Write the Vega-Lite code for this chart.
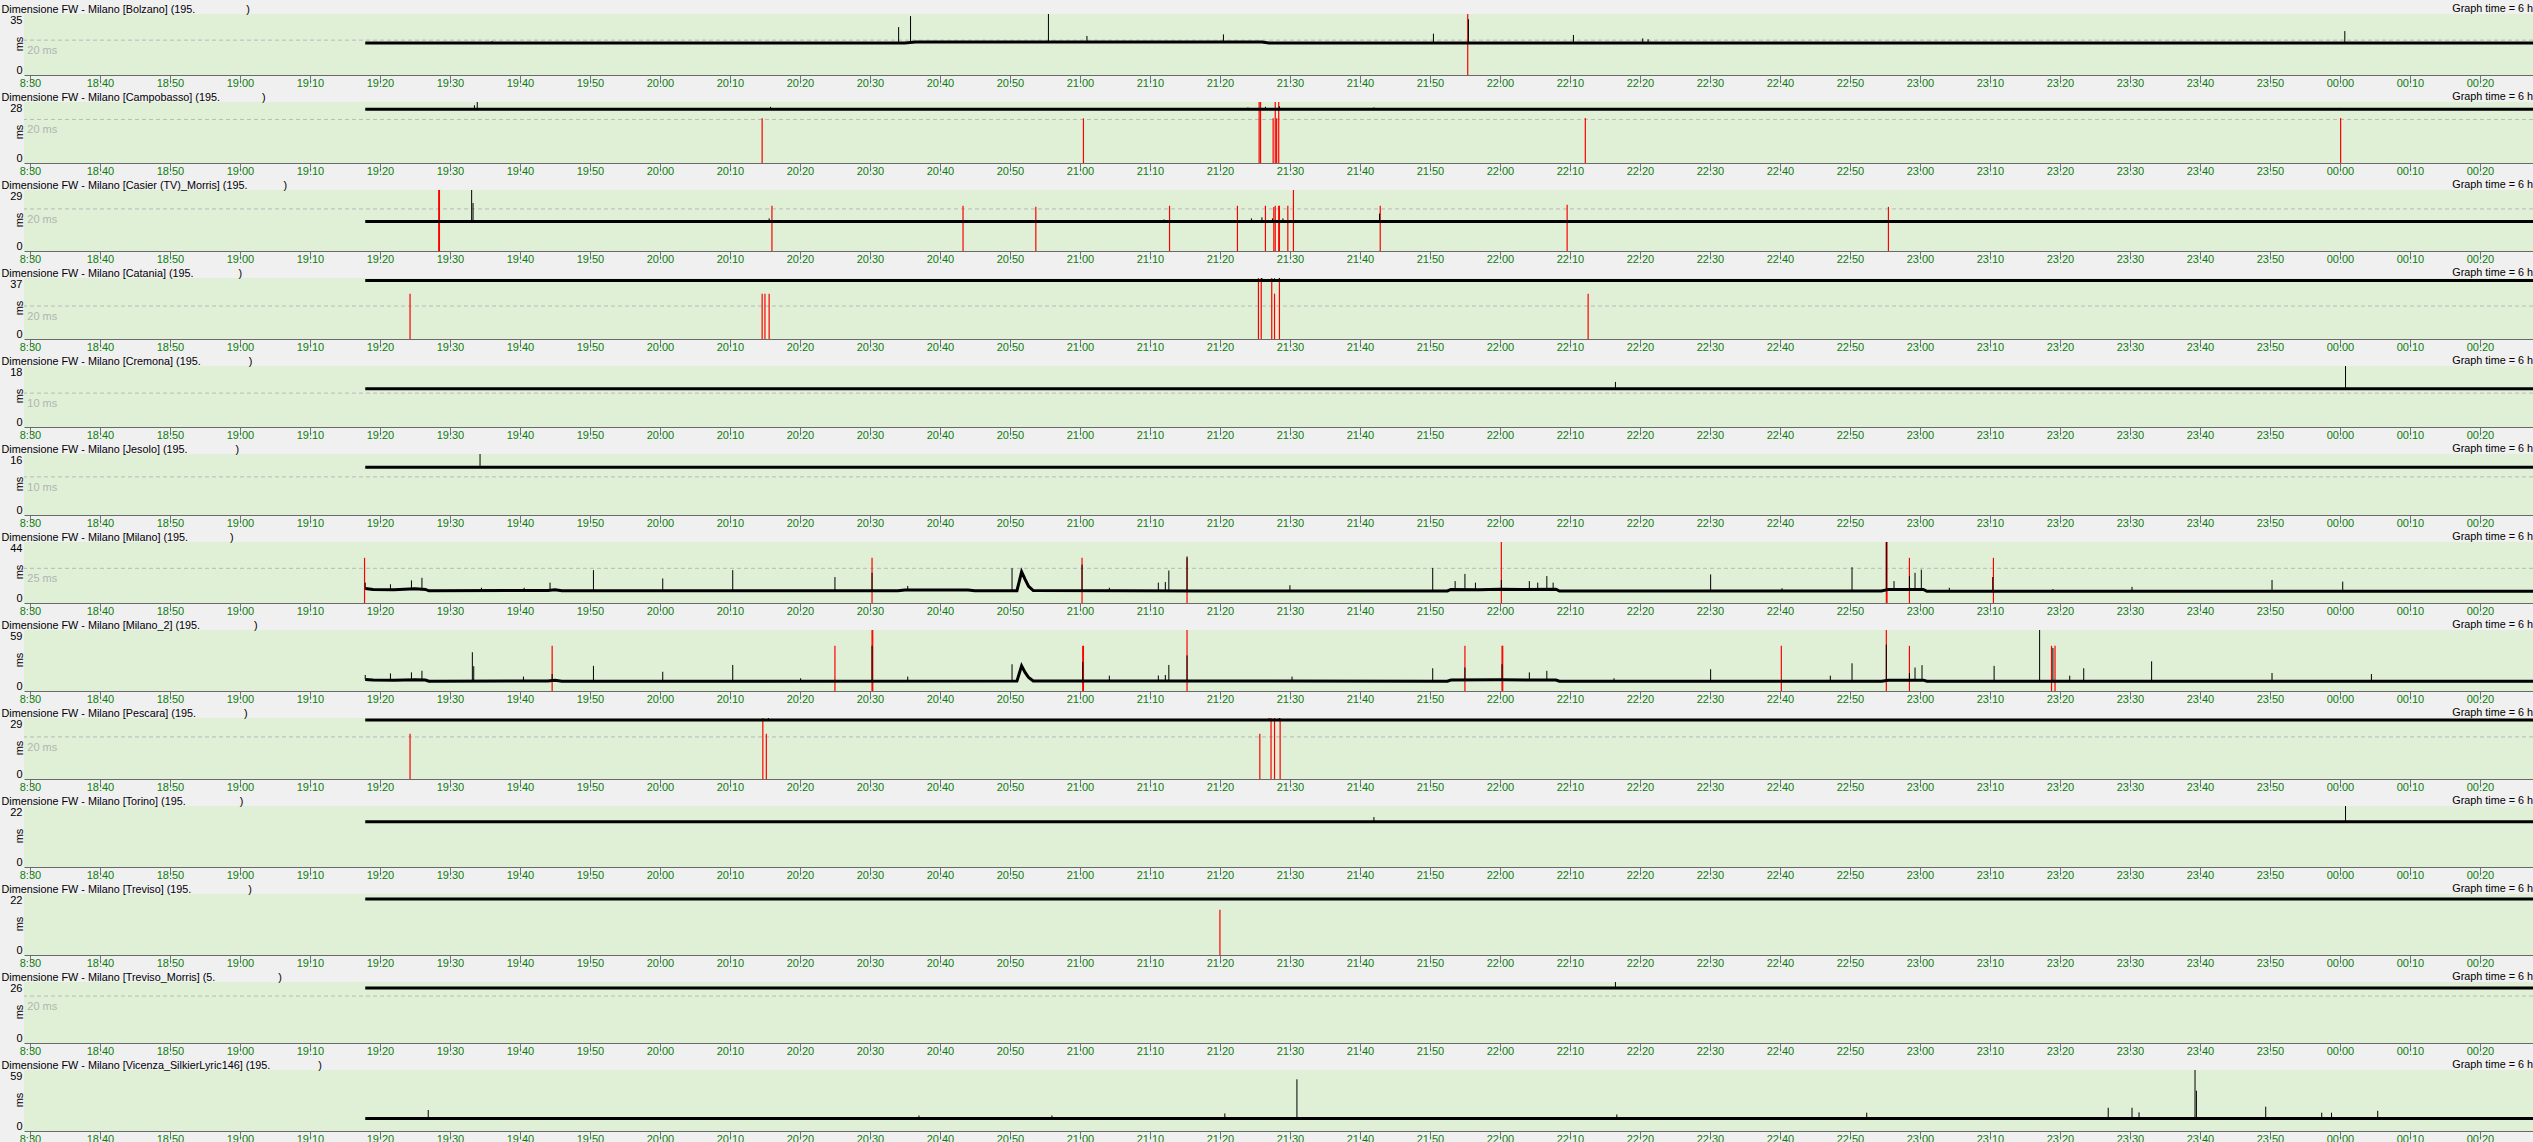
{
"$schema":"https://vega.github.io/schema/vega-lite/v6.json",
"padding":{"left":1,"top":2,"right":0,"bottom":0},
"background":"#f0f0f0",
"config":{"view":{"fill":"#dff0d7","stroke":null},"axis":{"labelFont":"Liberation Sans","titleFont":"Liberation Sans"},"title":{"font":"Liberation Sans"},"text":{"font":"Liberation Sans"}},
"datasets":{"d":[
{"p":"Bolzano","k":"thr","t":"2020-01-01T18:29:37","v":20,"lab":"20 ms"},
{"p":"Campobasso","k":"thr","t":"2020-01-01T18:29:37","v":20,"lab":"20 ms"},
{"p":"Casier","k":"thr","t":"2020-01-01T18:29:37","v":20,"lab":"20 ms"},
{"p":"Catania","k":"thr","t":"2020-01-01T18:29:37","v":20,"lab":"20 ms"},
{"p":"Cremona","k":"thr","t":"2020-01-01T18:29:37","v":10,"lab":"10 ms"},
{"p":"Jesolo","k":"thr","t":"2020-01-01T18:29:37","v":10,"lab":"10 ms"},
{"p":"Milano","k":"thr","t":"2020-01-01T18:29:37","v":25,"lab":"25 ms"},
{"p":"Pescara","k":"thr","t":"2020-01-01T18:29:37","v":20,"lab":"20 ms"},
{"p":"Treviso_Morris","k":"thr","t":"2020-01-01T18:29:37","v":20,"lab":"20 ms"},
{"p":"Bolzano","k":"line","t":"2020-01-01T19:17:54","v":18.4},{"p":"Bolzano","k":"line","t":"2020-01-01T20:35:00","v":18.4},{"p":"Bolzano","k":"line","t":"2020-01-01T20:36:30","v":18.9},{"p":"Bolzano","k":"line","t":"2020-01-01T21:26:00","v":18.9},{"p":"Bolzano","k":"line","t":"2020-01-01T21:27:00","v":18.4},{"p":"Bolzano","k":"line","t":"2020-01-02T00:27:35","v":18.4},
{"p":"Campobasso","k":"line","t":"2020-01-01T19:17:54","v":24.7},{"p":"Campobasso","k":"line","t":"2020-01-02T00:27:35","v":24.7},
{"p":"Casier","k":"line","t":"2020-01-01T19:17:54","v":14.0},{"p":"Casier","k":"line","t":"2020-01-02T00:27:35","v":14.0},
{"p":"Catania","k":"line","t":"2020-01-01T19:17:54","v":35.5},{"p":"Catania","k":"line","t":"2020-01-02T00:27:35","v":35.5},
{"p":"Cremona","k":"line","t":"2020-01-01T19:17:54","v":11.3},{"p":"Cremona","k":"line","t":"2020-01-02T00:27:35","v":11.3},
{"p":"Jesolo","k":"line","t":"2020-01-01T19:17:54","v":12.5},{"p":"Jesolo","k":"line","t":"2020-01-02T00:27:35","v":12.5},
{"p":"Milano","k":"line","t":"2020-01-01T19:17:54","v":10.5},{"p":"Milano","k":"line","t":"2020-01-01T19:19:00","v":9.8},{"p":"Milano","k":"line","t":"2020-01-01T19:22:00","v":9.6},{"p":"Milano","k":"line","t":"2020-01-01T19:25:00","v":10.2},{"p":"Milano","k":"line","t":"2020-01-01T19:26:30","v":9.8},{"p":"Milano","k":"line","t":"2020-01-01T19:27:00","v":8.8},{"p":"Milano","k":"line","t":"2020-01-01T19:44:00","v":9.0},{"p":"Milano","k":"line","t":"2020-01-01T19:45:00","v":9.6},{"p":"Milano","k":"line","t":"2020-01-01T19:46:00","v":8.8},{"p":"Milano","k":"line","t":"2020-01-01T20:34:00","v":8.8},{"p":"Milano","k":"line","t":"2020-01-01T20:35:00","v":9.3},{"p":"Milano","k":"line","t":"2020-01-01T20:44:00","v":9.3},{"p":"Milano","k":"line","t":"2020-01-01T20:45:00","v":8.8},{"p":"Milano","k":"line","t":"2020-01-01T20:51:00","v":8.9},{"p":"Milano","k":"line","t":"2020-01-01T20:51:40","v":22.5},{"p":"Milano","k":"line","t":"2020-01-01T20:52:10","v":17},{"p":"Milano","k":"line","t":"2020-01-01T20:52:40","v":12},{"p":"Milano","k":"line","t":"2020-01-01T20:53:20","v":9.0},{"p":"Milano","k":"line","t":"2020-01-01T21:17:00","v":8.6},{"p":"Milano","k":"line","t":"2020-01-01T21:52:30","v":8.7},{"p":"Milano","k":"line","t":"2020-01-01T21:53:00","v":9.8},{"p":"Milano","k":"line","t":"2020-01-01T21:57:00","v":9.6},{"p":"Milano","k":"line","t":"2020-01-01T22:00:00","v":10.0},{"p":"Milano","k":"line","t":"2020-01-01T22:03:00","v":9.8},{"p":"Milano","k":"line","t":"2020-01-01T22:08:00","v":9.9},{"p":"Milano","k":"line","t":"2020-01-01T22:08:30","v":8.6},{"p":"Milano","k":"line","t":"2020-01-01T22:54:30","v":8.6},{"p":"Milano","k":"line","t":"2020-01-01T22:55:30","v":9.8},{"p":"Milano","k":"line","t":"2020-01-01T23:00:30","v":9.8},{"p":"Milano","k":"line","t":"2020-01-01T23:01:00","v":8.5},{"p":"Milano","k":"line","t":"2020-01-02T00:27:35","v":8.5},
{"p":"Milano_2","k":"line","t":"2020-01-01T19:17:54","v":11.2},{"p":"Milano_2","k":"line","t":"2020-01-01T19:19:00","v":10.6},{"p":"Milano_2","k":"line","t":"2020-01-01T19:22:00","v":10.4},{"p":"Milano_2","k":"line","t":"2020-01-01T19:25:00","v":11.0},{"p":"Milano_2","k":"line","t":"2020-01-01T19:26:30","v":10.6},{"p":"Milano_2","k":"line","t":"2020-01-01T19:27:00","v":9.5},{"p":"Milano_2","k":"line","t":"2020-01-01T19:44:00","v":9.7},{"p":"Milano_2","k":"line","t":"2020-01-01T19:45:00","v":10.4},{"p":"Milano_2","k":"line","t":"2020-01-01T19:46:00","v":9.5},{"p":"Milano_2","k":"line","t":"2020-01-01T20:51:00","v":9.6},{"p":"Milano_2","k":"line","t":"2020-01-01T20:51:40","v":24.3},{"p":"Milano_2","k":"line","t":"2020-01-01T20:52:10","v":18},{"p":"Milano_2","k":"line","t":"2020-01-01T20:52:40","v":13},{"p":"Milano_2","k":"line","t":"2020-01-01T20:53:20","v":9.7},{"p":"Milano_2","k":"line","t":"2020-01-01T21:52:30","v":9.5},{"p":"Milano_2","k":"line","t":"2020-01-01T21:53:00","v":10.6},{"p":"Milano_2","k":"line","t":"2020-01-01T22:00:00","v":10.8},{"p":"Milano_2","k":"line","t":"2020-01-01T22:08:00","v":10.6},{"p":"Milano_2","k":"line","t":"2020-01-01T22:08:30","v":9.5},{"p":"Milano_2","k":"line","t":"2020-01-01T22:54:30","v":9.5},{"p":"Milano_2","k":"line","t":"2020-01-01T22:55:30","v":10.5},{"p":"Milano_2","k":"line","t":"2020-01-01T23:00:30","v":10.5},{"p":"Milano_2","k":"line","t":"2020-01-01T23:01:00","v":9.5},{"p":"Milano_2","k":"line","t":"2020-01-02T00:27:35","v":9.5},
{"p":"Pescara","k":"line","t":"2020-01-01T19:17:54","v":28},{"p":"Pescara","k":"line","t":"2020-01-02T00:27:35","v":28},
{"p":"Torino","k":"line","t":"2020-01-01T19:17:54","v":16.3},{"p":"Torino","k":"line","t":"2020-01-02T00:27:35","v":16.3},
{"p":"Treviso","k":"line","t":"2020-01-01T19:17:54","v":20.2},{"p":"Treviso","k":"line","t":"2020-01-02T00:27:35","v":20.2},
{"p":"Treviso_Morris","k":"line","t":"2020-01-01T19:17:54","v":23.4},{"p":"Treviso_Morris","k":"line","t":"2020-01-02T00:27:35","v":23.4},
{"p":"Vicenza","k":"line","t":"2020-01-01T19:17:54","v":12.1},{"p":"Vicenza","k":"line","t":"2020-01-02T00:27:35","v":12.1},
{"p":"Bolzano","k":"spk","t":"2020-01-01T19:36:00","v":18.4,"hi":19.5},{"p":"Bolzano","k":"spk","t":"2020-01-01T20:34:06","v":18.4,"hi":27.5},{"p":"Bolzano","k":"spk","t":"2020-01-01T20:35:48","v":18.4,"hi":33.8},{"p":"Bolzano","k":"spk","t":"2020-01-01T20:55:30","v":18.9,"hi":35},{"p":"Bolzano","k":"spk","t":"2020-01-01T21:01:00","v":18.9,"hi":22.4},{"p":"Bolzano","k":"spk","t":"2020-01-01T21:20:30","v":18.9,"hi":23.3},{"p":"Bolzano","k":"spk","t":"2020-01-01T21:50:30","v":18.4,"hi":23.7},{"p":"Bolzano","k":"spk","t":"2020-01-01T21:55:30","v":18.4,"hi":32},{"p":"Bolzano","k":"spk","t":"2020-01-01T22:10:30","v":18.4,"hi":23},{"p":"Bolzano","k":"spk","t":"2020-01-01T22:20:24","v":18.4,"hi":21},{"p":"Bolzano","k":"spk","t":"2020-01-01T22:21:10","v":18.4,"hi":20.5},{"p":"Bolzano","k":"spk","t":"2020-01-02T00:00:42","v":18.4,"hi":25.2},
{"p":"Campobasso","k":"spk","t":"2020-01-01T19:33:30","v":24.7,"hi":26.5},{"p":"Campobasso","k":"spk","t":"2020-01-01T19:33:54","v":24.7,"hi":28},{"p":"Campobasso","k":"spk","t":"2020-01-01T20:15:48","v":24.7,"hi":25.8},{"p":"Campobasso","k":"spk","t":"2020-01-01T21:24:00","v":24.7,"hi":25.5},{"p":"Campobasso","k":"spk","t":"2020-01-01T21:26:30","v":24.7,"hi":25.8},{"p":"Campobasso","k":"spk","t":"2020-01-01T21:28:30","v":24.7,"hi":26},{"p":"Campobasso","k":"spk","t":"2020-01-01T21:42:00","v":24.7,"hi":25.5},{"p":"Campobasso","k":"spk","t":"2020-01-02T00:00:00","v":24.7,"hi":25.3},
{"p":"Casier","k":"spk","t":"2020-01-01T19:33:06","v":14,"hi":29},{"p":"Casier","k":"spk","t":"2020-01-01T19:33:18","v":14,"hi":22.8},{"p":"Casier","k":"spk","t":"2020-01-01T20:15:36","v":14,"hi":15.5},{"p":"Casier","k":"spk","t":"2020-01-01T21:12:00","v":14,"hi":15},{"p":"Casier","k":"spk","t":"2020-01-01T21:24:30","v":14,"hi":15.5},{"p":"Casier","k":"spk","t":"2020-01-01T21:26:00","v":14,"hi":16},{"p":"Casier","k":"spk","t":"2020-01-01T21:27:30","v":14,"hi":15.5},{"p":"Casier","k":"spk","t":"2020-01-01T21:29:00","v":14,"hi":15.5},{"p":"Casier","k":"spk","t":"2020-01-01T21:42:48","v":14,"hi":17.8},
{"p":"Catania","k":"spk","t":"2020-01-01T21:26:00","v":35.5,"hi":37},{"p":"Catania","k":"spk","t":"2020-01-01T21:27:48","v":35.5,"hi":36.8},{"p":"Catania","k":"spk","t":"2020-01-01T21:28:30","v":35.5,"hi":37},
{"p":"Cremona","k":"spk","t":"2020-01-01T22:16:30","v":11.3,"hi":13.3},{"p":"Cremona","k":"spk","t":"2020-01-02T00:00:48","v":11.3,"hi":18},
{"p":"Jesolo","k":"spk","t":"2020-01-01T19:34:18","v":12.5,"hi":16},
{"p":"Milano","k":"spk","t":"2020-01-01T19:17:54","v":10.5,"hi":14.7},{"p":"Milano","k":"spk","t":"2020-01-01T19:21:30","v":9.7,"hi":13.5},{"p":"Milano","k":"spk","t":"2020-01-01T19:24:30","v":10,"hi":16.3},{"p":"Milano","k":"spk","t":"2020-01-01T19:26:00","v":10,"hi":18.2},{"p":"Milano","k":"spk","t":"2020-01-01T19:34:30","v":8.8,"hi":11},{"p":"Milano","k":"spk","t":"2020-01-01T19:40:36","v":8.8,"hi":11},{"p":"Milano","k":"spk","t":"2020-01-01T19:44:18","v":9,"hi":14.7},{"p":"Milano","k":"spk","t":"2020-01-01T19:50:30","v":8.8,"hi":23.7},{"p":"Milano","k":"spk","t":"2020-01-01T20:00:24","v":8.8,"hi":17.7},{"p":"Milano","k":"spk","t":"2020-01-01T20:10:24","v":8.8,"hi":23.7},{"p":"Milano","k":"spk","t":"2020-01-01T20:25:00","v":8.8,"hi":18.7},{"p":"Milano","k":"spk","t":"2020-01-01T20:30:18","v":8.8,"hi":21.8},{"p":"Milano","k":"spk","t":"2020-01-01T20:35:24","v":9.3,"hi":12.3},{"p":"Milano","k":"spk","t":"2020-01-01T20:50:18","v":8.8,"hi":25.1},{"p":"Milano","k":"spk","t":"2020-01-01T21:00:18","v":8.8,"hi":27.7},{"p":"Milano","k":"spk","t":"2020-01-01T21:04:12","v":8.8,"hi":11},{"p":"Milano","k":"spk","t":"2020-01-01T21:11:12","v":8.7,"hi":14.7},{"p":"Milano","k":"spk","t":"2020-01-01T21:12:12","v":8.7,"hi":15.1},{"p":"Milano","k":"spk","t":"2020-01-01T21:12:42","v":8.7,"hi":23.4},{"p":"Milano","k":"spk","t":"2020-01-01T21:15:18","v":8.7,"hi":33.6},{"p":"Milano","k":"spk","t":"2020-01-01T21:30:00","v":8.6,"hi":12.8},{"p":"Milano","k":"spk","t":"2020-01-01T21:50:24","v":8.7,"hi":25.3},{"p":"Milano","k":"spk","t":"2020-01-01T21:53:36","v":9.8,"hi":15.8},{"p":"Milano","k":"spk","t":"2020-01-01T21:55:00","v":9.7,"hi":21},{"p":"Milano","k":"spk","t":"2020-01-01T21:56:30","v":9.6,"hi":14.7},{"p":"Milano","k":"spk","t":"2020-01-01T22:00:12","v":10,"hi":16.6},{"p":"Milano","k":"spk","t":"2020-01-01T22:04:12","v":9.8,"hi":15.8},{"p":"Milano","k":"spk","t":"2020-01-01T22:05:24","v":9.8,"hi":14.7},{"p":"Milano","k":"spk","t":"2020-01-01T22:06:42","v":9.9,"hi":19.4},{"p":"Milano","k":"spk","t":"2020-01-01T22:07:36","v":9.9,"hi":14.7},{"p":"Milano","k":"spk","t":"2020-01-01T22:30:06","v":8.6,"hi":20.6},{"p":"Milano","k":"spk","t":"2020-01-01T22:40:18","v":8.6,"hi":10.6},{"p":"Milano","k":"spk","t":"2020-01-01T22:50:18","v":8.6,"hi":25.8},{"p":"Milano","k":"spk","t":"2020-01-01T22:55:12","v":9,"hi":44},{"p":"Milano","k":"spk","t":"2020-01-01T22:56:18","v":9.8,"hi":15.8},{"p":"Milano","k":"spk","t":"2020-01-01T22:58:30","v":9.8,"hi":19.4},{"p":"Milano","k":"spk","t":"2020-01-01T22:59:18","v":9.8,"hi":21.8},{"p":"Milano","k":"spk","t":"2020-01-01T23:00:12","v":9.8,"hi":24.1},{"p":"Milano","k":"spk","t":"2020-01-01T23:04:12","v":8.5,"hi":11},{"p":"Milano","k":"spk","t":"2020-01-01T23:10:24","v":8.5,"hi":18.7},{"p":"Milano","k":"spk","t":"2020-01-01T23:19:00","v":8.5,"hi":10},{"p":"Milano","k":"spk","t":"2020-01-01T23:30:18","v":8.5,"hi":11.6},{"p":"Milano","k":"spk","t":"2020-01-01T23:50:18","v":8.5,"hi":16.6},{"p":"Milano","k":"spk","t":"2020-01-02T00:00:24","v":8.5,"hi":15.4},
{"p":"Milano_2","k":"spk","t":"2020-01-01T19:17:54","v":11.2,"hi":15.5},{"p":"Milano_2","k":"spk","t":"2020-01-01T19:21:30","v":10.5,"hi":17},{"p":"Milano_2","k":"spk","t":"2020-01-01T19:24:30","v":10.7,"hi":18},{"p":"Milano_2","k":"spk","t":"2020-01-01T19:26:00","v":10.8,"hi":19.6},{"p":"Milano_2","k":"spk","t":"2020-01-01T19:33:12","v":9.5,"hi":37.5},{"p":"Milano_2","k":"spk","t":"2020-01-01T19:33:24","v":9.5,"hi":24},{"p":"Milano_2","k":"spk","t":"2020-01-01T19:40:30","v":9.5,"hi":13.9},{"p":"Milano_2","k":"spk","t":"2020-01-01T19:44:36","v":9.8,"hi":16.4},{"p":"Milano_2","k":"spk","t":"2020-01-01T19:50:30","v":9.5,"hi":24.3},{"p":"Milano_2","k":"spk","t":"2020-01-01T20:00:24","v":9.5,"hi":18.6},{"p":"Milano_2","k":"spk","t":"2020-01-01T20:10:24","v":9.5,"hi":25.2},{"p":"Milano_2","k":"spk","t":"2020-01-01T20:20:06","v":9.5,"hi":12.3},{"p":"Milano_2","k":"spk","t":"2020-01-01T20:30:18","v":9.5,"hi":43.8},{"p":"Milano_2","k":"spk","t":"2020-01-01T20:35:24","v":9.5,"hi":13.9},{"p":"Milano_2","k":"spk","t":"2020-01-01T20:50:18","v":9.5,"hi":25.9},{"p":"Milano_2","k":"spk","t":"2020-01-01T21:00:24","v":9.5,"hi":28},{"p":"Milano_2","k":"spk","t":"2020-01-01T21:04:12","v":9.5,"hi":14.8},{"p":"Milano_2","k":"spk","t":"2020-01-01T21:11:12","v":9.5,"hi":15},{"p":"Milano_2","k":"spk","t":"2020-01-01T21:12:12","v":9.5,"hi":15.5},{"p":"Milano_2","k":"spk","t":"2020-01-01T21:12:42","v":9.5,"hi":25.2},{"p":"Milano_2","k":"spk","t":"2020-01-01T21:15:18","v":9.5,"hi":34.4},{"p":"Milano_2","k":"spk","t":"2020-01-01T21:30:18","v":9.5,"hi":13.9},{"p":"Milano_2","k":"spk","t":"2020-01-01T21:50:24","v":9.5,"hi":22},{"p":"Milano_2","k":"spk","t":"2020-01-01T21:55:00","v":10.6,"hi":22.7},{"p":"Milano_2","k":"spk","t":"2020-01-01T22:00:18","v":10.8,"hi":25.9},{"p":"Milano_2","k":"spk","t":"2020-01-01T22:04:12","v":10.7,"hi":18},{"p":"Milano_2","k":"spk","t":"2020-01-01T22:06:42","v":10.6,"hi":19.5},{"p":"Milano_2","k":"spk","t":"2020-01-01T22:16:18","v":9.5,"hi":12.3},{"p":"Milano_2","k":"spk","t":"2020-01-01T22:30:06","v":9.5,"hi":21},{"p":"Milano_2","k":"spk","t":"2020-01-01T22:47:12","v":9.5,"hi":14.8},{"p":"Milano_2","k":"spk","t":"2020-01-01T22:50:18","v":9.5,"hi":26.8},{"p":"Milano_2","k":"spk","t":"2020-01-01T22:55:12","v":9.8,"hi":44.8},{"p":"Milano_2","k":"spk","t":"2020-01-01T22:58:30","v":10.5,"hi":17.4},{"p":"Milano_2","k":"spk","t":"2020-01-01T22:59:18","v":10.5,"hi":22.7},{"p":"Milano_2","k":"spk","t":"2020-01-01T23:00:18","v":10.5,"hi":25},{"p":"Milano_2","k":"spk","t":"2020-01-01T23:10:36","v":9.5,"hi":24.3},{"p":"Milano_2","k":"spk","t":"2020-01-01T23:17:06","v":9.5,"hi":59},{"p":"Milano_2","k":"spk","t":"2020-01-01T23:19:00","v":9.5,"hi":41.6},{"p":"Milano_2","k":"spk","t":"2020-01-01T23:21:24","v":9.5,"hi":14.8},{"p":"Milano_2","k":"spk","t":"2020-01-01T23:23:24","v":9.5,"hi":22},{"p":"Milano_2","k":"spk","t":"2020-01-01T23:33:06","v":9.5,"hi":28.7},{"p":"Milano_2","k":"spk","t":"2020-01-01T23:50:18","v":9.5,"hi":17.4},{"p":"Milano_2","k":"spk","t":"2020-01-02T00:04:30","v":9.5,"hi":16.4},
{"p":"Pescara","k":"spk","t":"2020-01-01T20:15:30","v":28,"hi":29},{"p":"Pescara","k":"spk","t":"2020-01-01T21:27:00","v":28,"hi":29},{"p":"Pescara","k":"spk","t":"2020-01-01T21:28:30","v":28,"hi":29},
{"p":"Torino","k":"spk","t":"2020-01-01T21:42:00","v":16.3,"hi":18},{"p":"Torino","k":"spk","t":"2020-01-02T00:00:48","v":16.3,"hi":22},
{"p":"Treviso_Morris","k":"spk","t":"2020-01-01T22:16:30","v":23.4,"hi":26},
{"p":"Vicenza","k":"spk","t":"2020-01-01T19:26:54","v":12.1,"hi":20.3},{"p":"Vicenza","k":"spk","t":"2020-01-01T20:37:00","v":12.1,"hi":15},{"p":"Vicenza","k":"spk","t":"2020-01-01T20:56:00","v":12.1,"hi":15},{"p":"Vicenza","k":"spk","t":"2020-01-01T21:20:42","v":12.1,"hi":17},{"p":"Vicenza","k":"spk","t":"2020-01-01T21:31:00","v":12.1,"hi":50},{"p":"Vicenza","k":"spk","t":"2020-01-01T22:16:42","v":12.1,"hi":16},{"p":"Vicenza","k":"spk","t":"2020-01-01T22:52:24","v":12.1,"hi":17.7},{"p":"Vicenza","k":"spk","t":"2020-01-01T23:26:54","v":12.1,"hi":22.5},{"p":"Vicenza","k":"spk","t":"2020-01-01T23:30:18","v":12.1,"hi":22.5},{"p":"Vicenza","k":"spk","t":"2020-01-01T23:31:18","v":12.1,"hi":18},{"p":"Vicenza","k":"spk","t":"2020-01-01T23:39:18","v":12.1,"hi":59},{"p":"Vicenza","k":"spk","t":"2020-01-01T23:39:30","v":12.1,"hi":39},{"p":"Vicenza","k":"spk","t":"2020-01-01T23:49:24","v":12.1,"hi":23.5},{"p":"Vicenza","k":"spk","t":"2020-01-01T23:57:24","v":12.1,"hi":17.7},{"p":"Vicenza","k":"spk","t":"2020-01-01T23:58:48","v":12.1,"hi":17.7},{"p":"Vicenza","k":"spk","t":"2020-01-02T00:05:24","v":12.1,"hi":19.5},
{"p":"Bolzano","k":"loss","t":"2020-01-01T21:55:24","v":0,"hi":35},
{"p":"Campobasso","k":"loss","t":"2020-01-01T20:14:36","v":0,"hi":20.5},{"p":"Campobasso","k":"loss","t":"2020-01-01T21:00:30","v":0,"hi":20.5},{"p":"Campobasso","k":"loss","t":"2020-01-01T21:25:36","v":0,"hi":28},{"p":"Campobasso","k":"loss","t":"2020-01-01T21:25:48","v":0,"hi":28},{"p":"Campobasso","k":"loss","t":"2020-01-01T21:27:36","v":0,"hi":20.5},{"p":"Campobasso","k":"loss","t":"2020-01-01T21:27:54","v":0,"hi":28},{"p":"Campobasso","k":"loss","t":"2020-01-01T21:28:06","v":0,"hi":20.5},{"p":"Campobasso","k":"loss","t":"2020-01-01T21:28:24","v":0,"hi":28},{"p":"Campobasso","k":"loss","t":"2020-01-01T22:12:12","v":0,"hi":20.6},{"p":"Campobasso","k":"loss","t":"2020-01-02T00:00:06","v":0,"hi":20.6},
{"p":"Casier","k":"loss","t":"2020-01-01T19:28:24","v":0,"hi":29},{"p":"Casier","k":"loss","t":"2020-01-01T19:28:30","v":0,"hi":29},{"p":"Casier","k":"loss","t":"2020-01-01T20:16:00","v":0,"hi":21.5},{"p":"Casier","k":"loss","t":"2020-01-01T20:43:18","v":0,"hi":21.5},{"p":"Casier","k":"loss","t":"2020-01-01T20:53:42","v":0,"hi":21},{"p":"Casier","k":"loss","t":"2020-01-01T21:12:48","v":0,"hi":21.5},{"p":"Casier","k":"loss","t":"2020-01-01T21:22:30","v":0,"hi":21.5},{"p":"Casier","k":"loss","t":"2020-01-01T21:26:30","v":0,"hi":21.5},{"p":"Casier","k":"loss","t":"2020-01-01T21:27:42","v":0,"hi":20.9},{"p":"Casier","k":"loss","t":"2020-01-01T21:27:54","v":0,"hi":21.5},{"p":"Casier","k":"loss","t":"2020-01-01T21:28:24","v":0,"hi":21.5},{"p":"Casier","k":"loss","t":"2020-01-01T21:28:30","v":0,"hi":21.5},{"p":"Casier","k":"loss","t":"2020-01-01T21:29:42","v":0,"hi":21.5},{"p":"Casier","k":"loss","t":"2020-01-01T21:30:30","v":0,"hi":29},{"p":"Casier","k":"loss","t":"2020-01-01T21:42:54","v":0,"hi":21.5},{"p":"Casier","k":"loss","t":"2020-01-01T22:09:36","v":0,"hi":22},{"p":"Casier","k":"loss","t":"2020-01-01T22:55:30","v":0,"hi":21},
{"p":"Catania","k":"loss","t":"2020-01-01T19:24:18","v":0,"hi":27.5},{"p":"Catania","k":"loss","t":"2020-01-01T20:14:36","v":0,"hi":27.5},{"p":"Catania","k":"loss","t":"2020-01-01T20:15:00","v":0,"hi":27.5},{"p":"Catania","k":"loss","t":"2020-01-01T20:15:36","v":0,"hi":27.5},{"p":"Catania","k":"loss","t":"2020-01-01T21:25:30","v":0,"hi":37},{"p":"Catania","k":"loss","t":"2020-01-01T21:25:54","v":0,"hi":37},{"p":"Catania","k":"loss","t":"2020-01-01T21:27:24","v":0,"hi":37},{"p":"Catania","k":"loss","t":"2020-01-01T21:27:48","v":0,"hi":27.5},{"p":"Catania","k":"loss","t":"2020-01-01T21:28:30","v":0,"hi":37},{"p":"Catania","k":"loss","t":"2020-01-01T22:12:36","v":0,"hi":27.5},
{"p":"Milano","k":"loss","t":"2020-01-01T19:17:48","v":0,"hi":32.6},{"p":"Milano","k":"loss","t":"2020-01-01T20:30:18","v":0,"hi":32.6},{"p":"Milano","k":"loss","t":"2020-01-01T21:00:18","v":0,"hi":32.6},{"p":"Milano","k":"loss","t":"2020-01-01T21:15:18","v":0,"hi":32.6},{"p":"Milano","k":"loss","t":"2020-01-01T22:00:12","v":0,"hi":44},{"p":"Milano","k":"loss","t":"2020-01-01T22:55:12","v":0,"hi":44},{"p":"Milano","k":"loss","t":"2020-01-01T22:55:18","v":0,"hi":44},{"p":"Milano","k":"loss","t":"2020-01-01T22:58:30","v":0,"hi":32.6},{"p":"Milano","k":"loss","t":"2020-01-01T23:10:30","v":0,"hi":32.6},
{"p":"Milano_2","k":"loss","t":"2020-01-01T19:44:36","v":0,"hi":43.7},{"p":"Milano_2","k":"loss","t":"2020-01-01T20:25:00","v":0,"hi":43.7},{"p":"Milano_2","k":"loss","t":"2020-01-01T20:30:18","v":0,"hi":59},{"p":"Milano_2","k":"loss","t":"2020-01-01T20:30:24","v":0,"hi":59},{"p":"Milano_2","k":"loss","t":"2020-01-01T21:00:24","v":0,"hi":43.7},{"p":"Milano_2","k":"loss","t":"2020-01-01T21:00:30","v":0,"hi":43.7},{"p":"Milano_2","k":"loss","t":"2020-01-01T21:15:18","v":0,"hi":59},{"p":"Milano_2","k":"loss","t":"2020-01-01T21:55:00","v":0,"hi":43.7},{"p":"Milano_2","k":"loss","t":"2020-01-01T22:00:18","v":0,"hi":43.7},{"p":"Milano_2","k":"loss","t":"2020-01-01T22:00:24","v":0,"hi":43.7},{"p":"Milano_2","k":"loss","t":"2020-01-01T22:40:12","v":0,"hi":43.7},{"p":"Milano_2","k":"loss","t":"2020-01-01T22:55:12","v":0,"hi":59},{"p":"Milano_2","k":"loss","t":"2020-01-01T22:58:30","v":0,"hi":43.7},{"p":"Milano_2","k":"loss","t":"2020-01-01T23:18:48","v":0,"hi":43.7},{"p":"Milano_2","k":"loss","t":"2020-01-01T23:19:18","v":0,"hi":43.7},
{"p":"Pescara","k":"loss","t":"2020-01-01T19:24:18","v":0,"hi":21.5},{"p":"Pescara","k":"loss","t":"2020-01-01T20:14:42","v":0,"hi":29},{"p":"Pescara","k":"loss","t":"2020-01-01T20:15:12","v":0,"hi":21.5},{"p":"Pescara","k":"loss","t":"2020-01-01T21:25:42","v":0,"hi":21.5},{"p":"Pescara","k":"loss","t":"2020-01-01T21:27:18","v":0,"hi":29},{"p":"Pescara","k":"loss","t":"2020-01-01T21:27:48","v":0,"hi":29},{"p":"Pescara","k":"loss","t":"2020-01-01T21:28:36","v":0,"hi":29},
{"p":"Treviso","k":"loss","t":"2020-01-01T21:20:00","v":0,"hi":16.3}
]},
"vconcat":[
{"width":2509,"height":61,"data":{"name":"d"},"transform":[{"filter":"datum.p=='Bolzano'"}],"title":{"text":"Graph time = 6 h","anchor":"end","frame":"group","offset":-19.6,"baseline":"alphabetic","fontSize":10.8,"fontWeight":"normal","color":"#000000"},"encoding":{"y":{"field":"v","type":"quantitative","scale":{"domain":[0,35],"nice":false},"axis":{"values":[0,35],"labelFlush":true,"domain":false,"ticks":false,"grid":false,"labelPadding":2,"labelFontSize":11,"labelColor":"#000000","title":"ms","titleX":-2,"titleY":29.5,"titleAngle":-90,"titleAlign":"center","titleBaseline":"alphabetic","titleFontSize":11,"titleFontWeight":"normal","titleColor":"#000000"}}},"layer":[
{"transform":[{"filter":"datum.k=='thr'"}],"mark":{"type":"rule","strokeDash":[4,3],"color":"#b9b9b9","strokeWidth":1},"encoding":{}},
{"transform":[{"filter":"datum.k=='thr'"}],"mark":{"type":"text","align":"left","baseline":"top","dy":5,"color":"#b3b3b3","fontSize":11},"encoding":{"x":{"field":"t","type":"temporal","scale":{"domain":[{"year":2020,"month":1,"date":1,"hours":18,"minutes":29,"seconds":9},{"year":2020,"month":1,"date":2,"hours":0,"minutes":27,"seconds":35}]}},"text":{"field":"lab"}}},
{"transform":[{"filter":"datum.k=='loss'"}],"mark":{"type":"rule","color":"#ff0000","strokeWidth":1.2},"encoding":{"x":{"field":"t","type":"temporal","scale":{"domain":[{"year":2020,"month":1,"date":1,"hours":18,"minutes":29,"seconds":9},{"year":2020,"month":1,"date":2,"hours":0,"minutes":27,"seconds":35}]}},"y2":{"field":"hi"}}},
{"transform":[{"filter":"datum.k=='line'"}],"mark":{"type":"line","color":"#000000","strokeWidth":3,"clip":true},"encoding":{"x":{"field":"t","type":"temporal","scale":{"domain":[{"year":2020,"month":1,"date":1,"hours":18,"minutes":29,"seconds":9},{"year":2020,"month":1,"date":2,"hours":0,"minutes":27,"seconds":35}]},"axis":{"values":[{"year":2020,"month":1,"date":1,"hours":18,"minutes":30},{"year":2020,"month":1,"date":1,"hours":18,"minutes":40},{"year":2020,"month":1,"date":1,"hours":18,"minutes":50},{"year":2020,"month":1,"date":1,"hours":19,"minutes":0},{"year":2020,"month":1,"date":1,"hours":19,"minutes":10},{"year":2020,"month":1,"date":1,"hours":19,"minutes":20},{"year":2020,"month":1,"date":1,"hours":19,"minutes":30},{"year":2020,"month":1,"date":1,"hours":19,"minutes":40},{"year":2020,"month":1,"date":1,"hours":19,"minutes":50},{"year":2020,"month":1,"date":1,"hours":20,"minutes":0},{"year":2020,"month":1,"date":1,"hours":20,"minutes":10},{"year":2020,"month":1,"date":1,"hours":20,"minutes":20},{"year":2020,"month":1,"date":1,"hours":20,"minutes":30},{"year":2020,"month":1,"date":1,"hours":20,"minutes":40},{"year":2020,"month":1,"date":1,"hours":20,"minutes":50},{"year":2020,"month":1,"date":1,"hours":21,"minutes":0},{"year":2020,"month":1,"date":1,"hours":21,"minutes":10},{"year":2020,"month":1,"date":1,"hours":21,"minutes":20},{"year":2020,"month":1,"date":1,"hours":21,"minutes":30},{"year":2020,"month":1,"date":1,"hours":21,"minutes":40},{"year":2020,"month":1,"date":1,"hours":21,"minutes":50},{"year":2020,"month":1,"date":1,"hours":22,"minutes":0},{"year":2020,"month":1,"date":1,"hours":22,"minutes":10},{"year":2020,"month":1,"date":1,"hours":22,"minutes":20},{"year":2020,"month":1,"date":1,"hours":22,"minutes":30},{"year":2020,"month":1,"date":1,"hours":22,"minutes":40},{"year":2020,"month":1,"date":1,"hours":22,"minutes":50},{"year":2020,"month":1,"date":1,"hours":23,"minutes":0},{"year":2020,"month":1,"date":1,"hours":23,"minutes":10},{"year":2020,"month":1,"date":1,"hours":23,"minutes":20},{"year":2020,"month":1,"date":1,"hours":23,"minutes":30},{"year":2020,"month":1,"date":1,"hours":23,"minutes":40},{"year":2020,"month":1,"date":1,"hours":23,"minutes":50},{"year":2020,"month":1,"date":2,"hours":0,"minutes":0},{"year":2020,"month":1,"date":2,"hours":0,"minutes":10},{"year":2020,"month":1,"date":2,"hours":0,"minutes":20}],"format":"%H:%M","labelExpr":"datum.label == '18:30' ? '\u20078:30' : datum.label","labelColor":"#0b7f0b","labelFontSize":11,"labelPadding":-6,"labelOverlap":false,"labelFlush":false,"tickColor":"#777777","tickSize":8,"domainColor":"#6a6a6a","domainWidth":1,"grid":false,"title":"Dimensione FW - Milano [Bolzano] (195.\u00a0\u00a0\u00a0\u00a0\u00a0\u00a0\u00a0\u00a0\u00a0\u00a0\u00a0\u00a0\u00a0\u00a0\u00a0\u00a0\u00a0)","titleX":-23,"titleY":-63,"titleAlign":"left","titleAnchor":"start","titleBaseline":"alphabetic","titleFontSize":10.8,"titleFontWeight":"normal","titleColor":"#000000"}}}},
{"transform":[{"filter":"datum.k=='spk'"}],"mark":{"type":"rule","color":"#000000","strokeWidth":1},"encoding":{"x":{"field":"t","type":"temporal","scale":{"domain":[{"year":2020,"month":1,"date":1,"hours":18,"minutes":29,"seconds":9},{"year":2020,"month":1,"date":2,"hours":0,"minutes":27,"seconds":35}]}},"y2":{"field":"hi"}}}
]},
{"width":2509,"height":61,"data":{"name":"d"},"transform":[{"filter":"datum.p=='Campobasso'"}],"title":{"text":"Graph time = 6 h","anchor":"end","frame":"group","offset":-19.6,"baseline":"alphabetic","fontSize":10.8,"fontWeight":"normal","color":"#000000"},"encoding":{"y":{"field":"v","type":"quantitative","scale":{"domain":[0,28],"nice":false},"axis":{"values":[0,28],"labelFlush":true,"domain":false,"ticks":false,"grid":false,"labelPadding":2,"labelFontSize":11,"labelColor":"#000000","title":"ms","titleX":-2,"titleY":29.5,"titleAngle":-90,"titleAlign":"center","titleBaseline":"alphabetic","titleFontSize":11,"titleFontWeight":"normal","titleColor":"#000000"}}},"layer":[
{"transform":[{"filter":"datum.k=='thr'"}],"mark":{"type":"rule","strokeDash":[4,3],"color":"#b9b9b9","strokeWidth":1},"encoding":{}},
{"transform":[{"filter":"datum.k=='thr'"}],"mark":{"type":"text","align":"left","baseline":"top","dy":5,"color":"#b3b3b3","fontSize":11},"encoding":{"x":{"field":"t","type":"temporal","scale":{"domain":[{"year":2020,"month":1,"date":1,"hours":18,"minutes":29,"seconds":9},{"year":2020,"month":1,"date":2,"hours":0,"minutes":27,"seconds":35}]}},"text":{"field":"lab"}}},
{"transform":[{"filter":"datum.k=='loss'"}],"mark":{"type":"rule","color":"#ff0000","strokeWidth":1.2},"encoding":{"x":{"field":"t","type":"temporal","scale":{"domain":[{"year":2020,"month":1,"date":1,"hours":18,"minutes":29,"seconds":9},{"year":2020,"month":1,"date":2,"hours":0,"minutes":27,"seconds":35}]}},"y2":{"field":"hi"}}},
{"transform":[{"filter":"datum.k=='line'"}],"mark":{"type":"line","color":"#000000","strokeWidth":3,"clip":true},"encoding":{"x":{"field":"t","type":"temporal","scale":{"domain":[{"year":2020,"month":1,"date":1,"hours":18,"minutes":29,"seconds":9},{"year":2020,"month":1,"date":2,"hours":0,"minutes":27,"seconds":35}]},"axis":{"values":[{"year":2020,"month":1,"date":1,"hours":18,"minutes":30},{"year":2020,"month":1,"date":1,"hours":18,"minutes":40},{"year":2020,"month":1,"date":1,"hours":18,"minutes":50},{"year":2020,"month":1,"date":1,"hours":19,"minutes":0},{"year":2020,"month":1,"date":1,"hours":19,"minutes":10},{"year":2020,"month":1,"date":1,"hours":19,"minutes":20},{"year":2020,"month":1,"date":1,"hours":19,"minutes":30},{"year":2020,"month":1,"date":1,"hours":19,"minutes":40},{"year":2020,"month":1,"date":1,"hours":19,"minutes":50},{"year":2020,"month":1,"date":1,"hours":20,"minutes":0},{"year":2020,"month":1,"date":1,"hours":20,"minutes":10},{"year":2020,"month":1,"date":1,"hours":20,"minutes":20},{"year":2020,"month":1,"date":1,"hours":20,"minutes":30},{"year":2020,"month":1,"date":1,"hours":20,"minutes":40},{"year":2020,"month":1,"date":1,"hours":20,"minutes":50},{"year":2020,"month":1,"date":1,"hours":21,"minutes":0},{"year":2020,"month":1,"date":1,"hours":21,"minutes":10},{"year":2020,"month":1,"date":1,"hours":21,"minutes":20},{"year":2020,"month":1,"date":1,"hours":21,"minutes":30},{"year":2020,"month":1,"date":1,"hours":21,"minutes":40},{"year":2020,"month":1,"date":1,"hours":21,"minutes":50},{"year":2020,"month":1,"date":1,"hours":22,"minutes":0},{"year":2020,"month":1,"date":1,"hours":22,"minutes":10},{"year":2020,"month":1,"date":1,"hours":22,"minutes":20},{"year":2020,"month":1,"date":1,"hours":22,"minutes":30},{"year":2020,"month":1,"date":1,"hours":22,"minutes":40},{"year":2020,"month":1,"date":1,"hours":22,"minutes":50},{"year":2020,"month":1,"date":1,"hours":23,"minutes":0},{"year":2020,"month":1,"date":1,"hours":23,"minutes":10},{"year":2020,"month":1,"date":1,"hours":23,"minutes":20},{"year":2020,"month":1,"date":1,"hours":23,"minutes":30},{"year":2020,"month":1,"date":1,"hours":23,"minutes":40},{"year":2020,"month":1,"date":1,"hours":23,"minutes":50},{"year":2020,"month":1,"date":2,"hours":0,"minutes":0},{"year":2020,"month":1,"date":2,"hours":0,"minutes":10},{"year":2020,"month":1,"date":2,"hours":0,"minutes":20}],"format":"%H:%M","labelExpr":"datum.label == '18:30' ? '\u20078:30' : datum.label","labelColor":"#0b7f0b","labelFontSize":11,"labelPadding":-6,"labelOverlap":false,"labelFlush":false,"tickColor":"#777777","tickSize":8,"domainColor":"#6a6a6a","domainWidth":1,"grid":false,"title":"Dimensione FW - Milano [Campobasso] (195.\u00a0\u00a0\u00a0\u00a0\u00a0\u00a0\u00a0\u00a0\u00a0\u00a0\u00a0\u00a0\u00a0\u00a0)","titleX":-23,"titleY":-63,"titleAlign":"left","titleAnchor":"start","titleBaseline":"alphabetic","titleFontSize":10.8,"titleFontWeight":"normal","titleColor":"#000000"}}}},
{"transform":[{"filter":"datum.k=='spk'"}],"mark":{"type":"rule","color":"#000000","strokeWidth":1},"encoding":{"x":{"field":"t","type":"temporal","scale":{"domain":[{"year":2020,"month":1,"date":1,"hours":18,"minutes":29,"seconds":9},{"year":2020,"month":1,"date":2,"hours":0,"minutes":27,"seconds":35}]}},"y2":{"field":"hi"}}}
]},
{"width":2509,"height":61,"data":{"name":"d"},"transform":[{"filter":"datum.p=='Casier'"}],"title":{"text":"Graph time = 6 h","anchor":"end","frame":"group","offset":-19.6,"baseline":"alphabetic","fontSize":10.8,"fontWeight":"normal","color":"#000000"},"encoding":{"y":{"field":"v","type":"quantitative","scale":{"domain":[0,29],"nice":false},"axis":{"values":[0,29],"labelFlush":true,"domain":false,"ticks":false,"grid":false,"labelPadding":2,"labelFontSize":11,"labelColor":"#000000","title":"ms","titleX":-2,"titleY":29.5,"titleAngle":-90,"titleAlign":"center","titleBaseline":"alphabetic","titleFontSize":11,"titleFontWeight":"normal","titleColor":"#000000"}}},"layer":[
{"transform":[{"filter":"datum.k=='thr'"}],"mark":{"type":"rule","strokeDash":[4,3],"color":"#b9b9b9","strokeWidth":1},"encoding":{}},
{"transform":[{"filter":"datum.k=='thr'"}],"mark":{"type":"text","align":"left","baseline":"top","dy":5,"color":"#b3b3b3","fontSize":11},"encoding":{"x":{"field":"t","type":"temporal","scale":{"domain":[{"year":2020,"month":1,"date":1,"hours":18,"minutes":29,"seconds":9},{"year":2020,"month":1,"date":2,"hours":0,"minutes":27,"seconds":35}]}},"text":{"field":"lab"}}},
{"transform":[{"filter":"datum.k=='loss'"}],"mark":{"type":"rule","color":"#ff0000","strokeWidth":1.2},"encoding":{"x":{"field":"t","type":"temporal","scale":{"domain":[{"year":2020,"month":1,"date":1,"hours":18,"minutes":29,"seconds":9},{"year":2020,"month":1,"date":2,"hours":0,"minutes":27,"seconds":35}]}},"y2":{"field":"hi"}}},
{"transform":[{"filter":"datum.k=='line'"}],"mark":{"type":"line","color":"#000000","strokeWidth":3,"clip":true},"encoding":{"x":{"field":"t","type":"temporal","scale":{"domain":[{"year":2020,"month":1,"date":1,"hours":18,"minutes":29,"seconds":9},{"year":2020,"month":1,"date":2,"hours":0,"minutes":27,"seconds":35}]},"axis":{"values":[{"year":2020,"month":1,"date":1,"hours":18,"minutes":30},{"year":2020,"month":1,"date":1,"hours":18,"minutes":40},{"year":2020,"month":1,"date":1,"hours":18,"minutes":50},{"year":2020,"month":1,"date":1,"hours":19,"minutes":0},{"year":2020,"month":1,"date":1,"hours":19,"minutes":10},{"year":2020,"month":1,"date":1,"hours":19,"minutes":20},{"year":2020,"month":1,"date":1,"hours":19,"minutes":30},{"year":2020,"month":1,"date":1,"hours":19,"minutes":40},{"year":2020,"month":1,"date":1,"hours":19,"minutes":50},{"year":2020,"month":1,"date":1,"hours":20,"minutes":0},{"year":2020,"month":1,"date":1,"hours":20,"minutes":10},{"year":2020,"month":1,"date":1,"hours":20,"minutes":20},{"year":2020,"month":1,"date":1,"hours":20,"minutes":30},{"year":2020,"month":1,"date":1,"hours":20,"minutes":40},{"year":2020,"month":1,"date":1,"hours":20,"minutes":50},{"year":2020,"month":1,"date":1,"hours":21,"minutes":0},{"year":2020,"month":1,"date":1,"hours":21,"minutes":10},{"year":2020,"month":1,"date":1,"hours":21,"minutes":20},{"year":2020,"month":1,"date":1,"hours":21,"minutes":30},{"year":2020,"month":1,"date":1,"hours":21,"minutes":40},{"year":2020,"month":1,"date":1,"hours":21,"minutes":50},{"year":2020,"month":1,"date":1,"hours":22,"minutes":0},{"year":2020,"month":1,"date":1,"hours":22,"minutes":10},{"year":2020,"month":1,"date":1,"hours":22,"minutes":20},{"year":2020,"month":1,"date":1,"hours":22,"minutes":30},{"year":2020,"month":1,"date":1,"hours":22,"minutes":40},{"year":2020,"month":1,"date":1,"hours":22,"minutes":50},{"year":2020,"month":1,"date":1,"hours":23,"minutes":0},{"year":2020,"month":1,"date":1,"hours":23,"minutes":10},{"year":2020,"month":1,"date":1,"hours":23,"minutes":20},{"year":2020,"month":1,"date":1,"hours":23,"minutes":30},{"year":2020,"month":1,"date":1,"hours":23,"minutes":40},{"year":2020,"month":1,"date":1,"hours":23,"minutes":50},{"year":2020,"month":1,"date":2,"hours":0,"minutes":0},{"year":2020,"month":1,"date":2,"hours":0,"minutes":10},{"year":2020,"month":1,"date":2,"hours":0,"minutes":20}],"format":"%H:%M","labelExpr":"datum.label == '18:30' ? '\u20078:30' : datum.label","labelColor":"#0b7f0b","labelFontSize":11,"labelPadding":-6,"labelOverlap":false,"labelFlush":false,"tickColor":"#777777","tickSize":8,"domainColor":"#6a6a6a","domainWidth":1,"grid":false,"title":"Dimensione FW - Milano [Casier (TV)_Morris] (195.\u00a0\u00a0\u00a0\u00a0\u00a0\u00a0\u00a0\u00a0\u00a0\u00a0\u00a0\u00a0)","titleX":-23,"titleY":-63,"titleAlign":"left","titleAnchor":"start","titleBaseline":"alphabetic","titleFontSize":10.8,"titleFontWeight":"normal","titleColor":"#000000"}}}},
{"transform":[{"filter":"datum.k=='spk'"}],"mark":{"type":"rule","color":"#000000","strokeWidth":1},"encoding":{"x":{"field":"t","type":"temporal","scale":{"domain":[{"year":2020,"month":1,"date":1,"hours":18,"minutes":29,"seconds":9},{"year":2020,"month":1,"date":2,"hours":0,"minutes":27,"seconds":35}]}},"y2":{"field":"hi"}}}
]},
{"width":2509,"height":61,"data":{"name":"d"},"transform":[{"filter":"datum.p=='Catania'"}],"title":{"text":"Graph time = 6 h","anchor":"end","frame":"group","offset":-19.6,"baseline":"alphabetic","fontSize":10.8,"fontWeight":"normal","color":"#000000"},"encoding":{"y":{"field":"v","type":"quantitative","scale":{"domain":[0,37],"nice":false},"axis":{"values":[0,37],"labelFlush":true,"domain":false,"ticks":false,"grid":false,"labelPadding":2,"labelFontSize":11,"labelColor":"#000000","title":"ms","titleX":-2,"titleY":29.5,"titleAngle":-90,"titleAlign":"center","titleBaseline":"alphabetic","titleFontSize":11,"titleFontWeight":"normal","titleColor":"#000000"}}},"layer":[
{"transform":[{"filter":"datum.k=='thr'"}],"mark":{"type":"rule","strokeDash":[4,3],"color":"#b9b9b9","strokeWidth":1},"encoding":{}},
{"transform":[{"filter":"datum.k=='thr'"}],"mark":{"type":"text","align":"left","baseline":"top","dy":5,"color":"#b3b3b3","fontSize":11},"encoding":{"x":{"field":"t","type":"temporal","scale":{"domain":[{"year":2020,"month":1,"date":1,"hours":18,"minutes":29,"seconds":9},{"year":2020,"month":1,"date":2,"hours":0,"minutes":27,"seconds":35}]}},"text":{"field":"lab"}}},
{"transform":[{"filter":"datum.k=='loss'"}],"mark":{"type":"rule","color":"#ff0000","strokeWidth":1.2},"encoding":{"x":{"field":"t","type":"temporal","scale":{"domain":[{"year":2020,"month":1,"date":1,"hours":18,"minutes":29,"seconds":9},{"year":2020,"month":1,"date":2,"hours":0,"minutes":27,"seconds":35}]}},"y2":{"field":"hi"}}},
{"transform":[{"filter":"datum.k=='line'"}],"mark":{"type":"line","color":"#000000","strokeWidth":3,"clip":true},"encoding":{"x":{"field":"t","type":"temporal","scale":{"domain":[{"year":2020,"month":1,"date":1,"hours":18,"minutes":29,"seconds":9},{"year":2020,"month":1,"date":2,"hours":0,"minutes":27,"seconds":35}]},"axis":{"values":[{"year":2020,"month":1,"date":1,"hours":18,"minutes":30},{"year":2020,"month":1,"date":1,"hours":18,"minutes":40},{"year":2020,"month":1,"date":1,"hours":18,"minutes":50},{"year":2020,"month":1,"date":1,"hours":19,"minutes":0},{"year":2020,"month":1,"date":1,"hours":19,"minutes":10},{"year":2020,"month":1,"date":1,"hours":19,"minutes":20},{"year":2020,"month":1,"date":1,"hours":19,"minutes":30},{"year":2020,"month":1,"date":1,"hours":19,"minutes":40},{"year":2020,"month":1,"date":1,"hours":19,"minutes":50},{"year":2020,"month":1,"date":1,"hours":20,"minutes":0},{"year":2020,"month":1,"date":1,"hours":20,"minutes":10},{"year":2020,"month":1,"date":1,"hours":20,"minutes":20},{"year":2020,"month":1,"date":1,"hours":20,"minutes":30},{"year":2020,"month":1,"date":1,"hours":20,"minutes":40},{"year":2020,"month":1,"date":1,"hours":20,"minutes":50},{"year":2020,"month":1,"date":1,"hours":21,"minutes":0},{"year":2020,"month":1,"date":1,"hours":21,"minutes":10},{"year":2020,"month":1,"date":1,"hours":21,"minutes":20},{"year":2020,"month":1,"date":1,"hours":21,"minutes":30},{"year":2020,"month":1,"date":1,"hours":21,"minutes":40},{"year":2020,"month":1,"date":1,"hours":21,"minutes":50},{"year":2020,"month":1,"date":1,"hours":22,"minutes":0},{"year":2020,"month":1,"date":1,"hours":22,"minutes":10},{"year":2020,"month":1,"date":1,"hours":22,"minutes":20},{"year":2020,"month":1,"date":1,"hours":22,"minutes":30},{"year":2020,"month":1,"date":1,"hours":22,"minutes":40},{"year":2020,"month":1,"date":1,"hours":22,"minutes":50},{"year":2020,"month":1,"date":1,"hours":23,"minutes":0},{"year":2020,"month":1,"date":1,"hours":23,"minutes":10},{"year":2020,"month":1,"date":1,"hours":23,"minutes":20},{"year":2020,"month":1,"date":1,"hours":23,"minutes":30},{"year":2020,"month":1,"date":1,"hours":23,"minutes":40},{"year":2020,"month":1,"date":1,"hours":23,"minutes":50},{"year":2020,"month":1,"date":2,"hours":0,"minutes":0},{"year":2020,"month":1,"date":2,"hours":0,"minutes":10},{"year":2020,"month":1,"date":2,"hours":0,"minutes":20}],"format":"%H:%M","labelExpr":"datum.label == '18:30' ? '\u20078:30' : datum.label","labelColor":"#0b7f0b","labelFontSize":11,"labelPadding":-6,"labelOverlap":false,"labelFlush":false,"tickColor":"#777777","tickSize":8,"domainColor":"#6a6a6a","domainWidth":1,"grid":false,"title":"Dimensione FW - Milano [Catania] (195.\u00a0\u00a0\u00a0\u00a0\u00a0\u00a0\u00a0\u00a0\u00a0\u00a0\u00a0\u00a0\u00a0\u00a0\u00a0)","titleX":-23,"titleY":-63,"titleAlign":"left","titleAnchor":"start","titleBaseline":"alphabetic","titleFontSize":10.8,"titleFontWeight":"normal","titleColor":"#000000"}}}},
{"transform":[{"filter":"datum.k=='spk'"}],"mark":{"type":"rule","color":"#000000","strokeWidth":1},"encoding":{"x":{"field":"t","type":"temporal","scale":{"domain":[{"year":2020,"month":1,"date":1,"hours":18,"minutes":29,"seconds":9},{"year":2020,"month":1,"date":2,"hours":0,"minutes":27,"seconds":35}]}},"y2":{"field":"hi"}}}
]},
{"width":2509,"height":61,"data":{"name":"d"},"transform":[{"filter":"datum.p=='Cremona'"}],"title":{"text":"Graph time = 6 h","anchor":"end","frame":"group","offset":-19.6,"baseline":"alphabetic","fontSize":10.8,"fontWeight":"normal","color":"#000000"},"encoding":{"y":{"field":"v","type":"quantitative","scale":{"domain":[0,18],"nice":false},"axis":{"values":[0,18],"labelFlush":true,"domain":false,"ticks":false,"grid":false,"labelPadding":2,"labelFontSize":11,"labelColor":"#000000","title":"ms","titleX":-2,"titleY":29.5,"titleAngle":-90,"titleAlign":"center","titleBaseline":"alphabetic","titleFontSize":11,"titleFontWeight":"normal","titleColor":"#000000"}}},"layer":[
{"transform":[{"filter":"datum.k=='thr'"}],"mark":{"type":"rule","strokeDash":[4,3],"color":"#b9b9b9","strokeWidth":1},"encoding":{}},
{"transform":[{"filter":"datum.k=='thr'"}],"mark":{"type":"text","align":"left","baseline":"top","dy":5,"color":"#b3b3b3","fontSize":11},"encoding":{"x":{"field":"t","type":"temporal","scale":{"domain":[{"year":2020,"month":1,"date":1,"hours":18,"minutes":29,"seconds":9},{"year":2020,"month":1,"date":2,"hours":0,"minutes":27,"seconds":35}]}},"text":{"field":"lab"}}},
{"transform":[{"filter":"datum.k=='loss'"}],"mark":{"type":"rule","color":"#ff0000","strokeWidth":1.2},"encoding":{"x":{"field":"t","type":"temporal","scale":{"domain":[{"year":2020,"month":1,"date":1,"hours":18,"minutes":29,"seconds":9},{"year":2020,"month":1,"date":2,"hours":0,"minutes":27,"seconds":35}]}},"y2":{"field":"hi"}}},
{"transform":[{"filter":"datum.k=='line'"}],"mark":{"type":"line","color":"#000000","strokeWidth":3,"clip":true},"encoding":{"x":{"field":"t","type":"temporal","scale":{"domain":[{"year":2020,"month":1,"date":1,"hours":18,"minutes":29,"seconds":9},{"year":2020,"month":1,"date":2,"hours":0,"minutes":27,"seconds":35}]},"axis":{"values":[{"year":2020,"month":1,"date":1,"hours":18,"minutes":30},{"year":2020,"month":1,"date":1,"hours":18,"minutes":40},{"year":2020,"month":1,"date":1,"hours":18,"minutes":50},{"year":2020,"month":1,"date":1,"hours":19,"minutes":0},{"year":2020,"month":1,"date":1,"hours":19,"minutes":10},{"year":2020,"month":1,"date":1,"hours":19,"minutes":20},{"year":2020,"month":1,"date":1,"hours":19,"minutes":30},{"year":2020,"month":1,"date":1,"hours":19,"minutes":40},{"year":2020,"month":1,"date":1,"hours":19,"minutes":50},{"year":2020,"month":1,"date":1,"hours":20,"minutes":0},{"year":2020,"month":1,"date":1,"hours":20,"minutes":10},{"year":2020,"month":1,"date":1,"hours":20,"minutes":20},{"year":2020,"month":1,"date":1,"hours":20,"minutes":30},{"year":2020,"month":1,"date":1,"hours":20,"minutes":40},{"year":2020,"month":1,"date":1,"hours":20,"minutes":50},{"year":2020,"month":1,"date":1,"hours":21,"minutes":0},{"year":2020,"month":1,"date":1,"hours":21,"minutes":10},{"year":2020,"month":1,"date":1,"hours":21,"minutes":20},{"year":2020,"month":1,"date":1,"hours":21,"minutes":30},{"year":2020,"month":1,"date":1,"hours":21,"minutes":40},{"year":2020,"month":1,"date":1,"hours":21,"minutes":50},{"year":2020,"month":1,"date":1,"hours":22,"minutes":0},{"year":2020,"month":1,"date":1,"hours":22,"minutes":10},{"year":2020,"month":1,"date":1,"hours":22,"minutes":20},{"year":2020,"month":1,"date":1,"hours":22,"minutes":30},{"year":2020,"month":1,"date":1,"hours":22,"minutes":40},{"year":2020,"month":1,"date":1,"hours":22,"minutes":50},{"year":2020,"month":1,"date":1,"hours":23,"minutes":0},{"year":2020,"month":1,"date":1,"hours":23,"minutes":10},{"year":2020,"month":1,"date":1,"hours":23,"minutes":20},{"year":2020,"month":1,"date":1,"hours":23,"minutes":30},{"year":2020,"month":1,"date":1,"hours":23,"minutes":40},{"year":2020,"month":1,"date":1,"hours":23,"minutes":50},{"year":2020,"month":1,"date":2,"hours":0,"minutes":0},{"year":2020,"month":1,"date":2,"hours":0,"minutes":10},{"year":2020,"month":1,"date":2,"hours":0,"minutes":20}],"format":"%H:%M","labelExpr":"datum.label == '18:30' ? '\u20078:30' : datum.label","labelColor":"#0b7f0b","labelFontSize":11,"labelPadding":-6,"labelOverlap":false,"labelFlush":false,"tickColor":"#777777","tickSize":8,"domainColor":"#6a6a6a","domainWidth":1,"grid":false,"title":"Dimensione FW - Milano [Cremona] (195.\u00a0\u00a0\u00a0\u00a0\u00a0\u00a0\u00a0\u00a0\u00a0\u00a0\u00a0\u00a0\u00a0\u00a0\u00a0\u00a0)","titleX":-23,"titleY":-63,"titleAlign":"left","titleAnchor":"start","titleBaseline":"alphabetic","titleFontSize":10.8,"titleFontWeight":"normal","titleColor":"#000000"}}}},
{"transform":[{"filter":"datum.k=='spk'"}],"mark":{"type":"rule","color":"#000000","strokeWidth":1},"encoding":{"x":{"field":"t","type":"temporal","scale":{"domain":[{"year":2020,"month":1,"date":1,"hours":18,"minutes":29,"seconds":9},{"year":2020,"month":1,"date":2,"hours":0,"minutes":27,"seconds":35}]}},"y2":{"field":"hi"}}}
]},
{"width":2509,"height":61,"data":{"name":"d"},"transform":[{"filter":"datum.p=='Jesolo'"}],"title":{"text":"Graph time = 6 h","anchor":"end","frame":"group","offset":-19.6,"baseline":"alphabetic","fontSize":10.8,"fontWeight":"normal","color":"#000000"},"encoding":{"y":{"field":"v","type":"quantitative","scale":{"domain":[0,16],"nice":false},"axis":{"values":[0,16],"labelFlush":true,"domain":false,"ticks":false,"grid":false,"labelPadding":2,"labelFontSize":11,"labelColor":"#000000","title":"ms","titleX":-2,"titleY":29.5,"titleAngle":-90,"titleAlign":"center","titleBaseline":"alphabetic","titleFontSize":11,"titleFontWeight":"normal","titleColor":"#000000"}}},"layer":[
{"transform":[{"filter":"datum.k=='thr'"}],"mark":{"type":"rule","strokeDash":[4,3],"color":"#b9b9b9","strokeWidth":1},"encoding":{}},
{"transform":[{"filter":"datum.k=='thr'"}],"mark":{"type":"text","align":"left","baseline":"top","dy":5,"color":"#b3b3b3","fontSize":11},"encoding":{"x":{"field":"t","type":"temporal","scale":{"domain":[{"year":2020,"month":1,"date":1,"hours":18,"minutes":29,"seconds":9},{"year":2020,"month":1,"date":2,"hours":0,"minutes":27,"seconds":35}]}},"text":{"field":"lab"}}},
{"transform":[{"filter":"datum.k=='loss'"}],"mark":{"type":"rule","color":"#ff0000","strokeWidth":1.2},"encoding":{"x":{"field":"t","type":"temporal","scale":{"domain":[{"year":2020,"month":1,"date":1,"hours":18,"minutes":29,"seconds":9},{"year":2020,"month":1,"date":2,"hours":0,"minutes":27,"seconds":35}]}},"y2":{"field":"hi"}}},
{"transform":[{"filter":"datum.k=='line'"}],"mark":{"type":"line","color":"#000000","strokeWidth":3,"clip":true},"encoding":{"x":{"field":"t","type":"temporal","scale":{"domain":[{"year":2020,"month":1,"date":1,"hours":18,"minutes":29,"seconds":9},{"year":2020,"month":1,"date":2,"hours":0,"minutes":27,"seconds":35}]},"axis":{"values":[{"year":2020,"month":1,"date":1,"hours":18,"minutes":30},{"year":2020,"month":1,"date":1,"hours":18,"minutes":40},{"year":2020,"month":1,"date":1,"hours":18,"minutes":50},{"year":2020,"month":1,"date":1,"hours":19,"minutes":0},{"year":2020,"month":1,"date":1,"hours":19,"minutes":10},{"year":2020,"month":1,"date":1,"hours":19,"minutes":20},{"year":2020,"month":1,"date":1,"hours":19,"minutes":30},{"year":2020,"month":1,"date":1,"hours":19,"minutes":40},{"year":2020,"month":1,"date":1,"hours":19,"minutes":50},{"year":2020,"month":1,"date":1,"hours":20,"minutes":0},{"year":2020,"month":1,"date":1,"hours":20,"minutes":10},{"year":2020,"month":1,"date":1,"hours":20,"minutes":20},{"year":2020,"month":1,"date":1,"hours":20,"minutes":30},{"year":2020,"month":1,"date":1,"hours":20,"minutes":40},{"year":2020,"month":1,"date":1,"hours":20,"minutes":50},{"year":2020,"month":1,"date":1,"hours":21,"minutes":0},{"year":2020,"month":1,"date":1,"hours":21,"minutes":10},{"year":2020,"month":1,"date":1,"hours":21,"minutes":20},{"year":2020,"month":1,"date":1,"hours":21,"minutes":30},{"year":2020,"month":1,"date":1,"hours":21,"minutes":40},{"year":2020,"month":1,"date":1,"hours":21,"minutes":50},{"year":2020,"month":1,"date":1,"hours":22,"minutes":0},{"year":2020,"month":1,"date":1,"hours":22,"minutes":10},{"year":2020,"month":1,"date":1,"hours":22,"minutes":20},{"year":2020,"month":1,"date":1,"hours":22,"minutes":30},{"year":2020,"month":1,"date":1,"hours":22,"minutes":40},{"year":2020,"month":1,"date":1,"hours":22,"minutes":50},{"year":2020,"month":1,"date":1,"hours":23,"minutes":0},{"year":2020,"month":1,"date":1,"hours":23,"minutes":10},{"year":2020,"month":1,"date":1,"hours":23,"minutes":20},{"year":2020,"month":1,"date":1,"hours":23,"minutes":30},{"year":2020,"month":1,"date":1,"hours":23,"minutes":40},{"year":2020,"month":1,"date":1,"hours":23,"minutes":50},{"year":2020,"month":1,"date":2,"hours":0,"minutes":0},{"year":2020,"month":1,"date":2,"hours":0,"minutes":10},{"year":2020,"month":1,"date":2,"hours":0,"minutes":20}],"format":"%H:%M","labelExpr":"datum.label == '18:30' ? '\u20078:30' : datum.label","labelColor":"#0b7f0b","labelFontSize":11,"labelPadding":-6,"labelOverlap":false,"labelFlush":false,"tickColor":"#777777","tickSize":8,"domainColor":"#6a6a6a","domainWidth":1,"grid":false,"title":"Dimensione FW - Milano [Jesolo] (195.\u00a0\u00a0\u00a0\u00a0\u00a0\u00a0\u00a0\u00a0\u00a0\u00a0\u00a0\u00a0\u00a0\u00a0\u00a0\u00a0)","titleX":-23,"titleY":-63,"titleAlign":"left","titleAnchor":"start","titleBaseline":"alphabetic","titleFontSize":10.8,"titleFontWeight":"normal","titleColor":"#000000"}}}},
{"transform":[{"filter":"datum.k=='spk'"}],"mark":{"type":"rule","color":"#000000","strokeWidth":1},"encoding":{"x":{"field":"t","type":"temporal","scale":{"domain":[{"year":2020,"month":1,"date":1,"hours":18,"minutes":29,"seconds":9},{"year":2020,"month":1,"date":2,"hours":0,"minutes":27,"seconds":35}]}},"y2":{"field":"hi"}}}
]},
{"width":2509,"height":61,"data":{"name":"d"},"transform":[{"filter":"datum.p=='Milano'"}],"title":{"text":"Graph time = 6 h","anchor":"end","frame":"group","offset":-19.6,"baseline":"alphabetic","fontSize":10.8,"fontWeight":"normal","color":"#000000"},"encoding":{"y":{"field":"v","type":"quantitative","scale":{"domain":[0,44],"nice":false},"axis":{"values":[0,44],"labelFlush":true,"domain":false,"ticks":false,"grid":false,"labelPadding":2,"labelFontSize":11,"labelColor":"#000000","title":"ms","titleX":-2,"titleY":29.5,"titleAngle":-90,"titleAlign":"center","titleBaseline":"alphabetic","titleFontSize":11,"titleFontWeight":"normal","titleColor":"#000000"}}},"layer":[
{"transform":[{"filter":"datum.k=='thr'"}],"mark":{"type":"rule","strokeDash":[4,3],"color":"#b9b9b9","strokeWidth":1},"encoding":{}},
{"transform":[{"filter":"datum.k=='thr'"}],"mark":{"type":"text","align":"left","baseline":"top","dy":5,"color":"#b3b3b3","fontSize":11},"encoding":{"x":{"field":"t","type":"temporal","scale":{"domain":[{"year":2020,"month":1,"date":1,"hours":18,"minutes":29,"seconds":9},{"year":2020,"month":1,"date":2,"hours":0,"minutes":27,"seconds":35}]}},"text":{"field":"lab"}}},
{"transform":[{"filter":"datum.k=='loss'"}],"mark":{"type":"rule","color":"#ff0000","strokeWidth":1.2},"encoding":{"x":{"field":"t","type":"temporal","scale":{"domain":[{"year":2020,"month":1,"date":1,"hours":18,"minutes":29,"seconds":9},{"year":2020,"month":1,"date":2,"hours":0,"minutes":27,"seconds":35}]}},"y2":{"field":"hi"}}},
{"transform":[{"filter":"datum.k=='line'"}],"mark":{"type":"line","color":"#000000","strokeWidth":3,"clip":true},"encoding":{"x":{"field":"t","type":"temporal","scale":{"domain":[{"year":2020,"month":1,"date":1,"hours":18,"minutes":29,"seconds":9},{"year":2020,"month":1,"date":2,"hours":0,"minutes":27,"seconds":35}]},"axis":{"values":[{"year":2020,"month":1,"date":1,"hours":18,"minutes":30},{"year":2020,"month":1,"date":1,"hours":18,"minutes":40},{"year":2020,"month":1,"date":1,"hours":18,"minutes":50},{"year":2020,"month":1,"date":1,"hours":19,"minutes":0},{"year":2020,"month":1,"date":1,"hours":19,"minutes":10},{"year":2020,"month":1,"date":1,"hours":19,"minutes":20},{"year":2020,"month":1,"date":1,"hours":19,"minutes":30},{"year":2020,"month":1,"date":1,"hours":19,"minutes":40},{"year":2020,"month":1,"date":1,"hours":19,"minutes":50},{"year":2020,"month":1,"date":1,"hours":20,"minutes":0},{"year":2020,"month":1,"date":1,"hours":20,"minutes":10},{"year":2020,"month":1,"date":1,"hours":20,"minutes":20},{"year":2020,"month":1,"date":1,"hours":20,"minutes":30},{"year":2020,"month":1,"date":1,"hours":20,"minutes":40},{"year":2020,"month":1,"date":1,"hours":20,"minutes":50},{"year":2020,"month":1,"date":1,"hours":21,"minutes":0},{"year":2020,"month":1,"date":1,"hours":21,"minutes":10},{"year":2020,"month":1,"date":1,"hours":21,"minutes":20},{"year":2020,"month":1,"date":1,"hours":21,"minutes":30},{"year":2020,"month":1,"date":1,"hours":21,"minutes":40},{"year":2020,"month":1,"date":1,"hours":21,"minutes":50},{"year":2020,"month":1,"date":1,"hours":22,"minutes":0},{"year":2020,"month":1,"date":1,"hours":22,"minutes":10},{"year":2020,"month":1,"date":1,"hours":22,"minutes":20},{"year":2020,"month":1,"date":1,"hours":22,"minutes":30},{"year":2020,"month":1,"date":1,"hours":22,"minutes":40},{"year":2020,"month":1,"date":1,"hours":22,"minutes":50},{"year":2020,"month":1,"date":1,"hours":23,"minutes":0},{"year":2020,"month":1,"date":1,"hours":23,"minutes":10},{"year":2020,"month":1,"date":1,"hours":23,"minutes":20},{"year":2020,"month":1,"date":1,"hours":23,"minutes":30},{"year":2020,"month":1,"date":1,"hours":23,"minutes":40},{"year":2020,"month":1,"date":1,"hours":23,"minutes":50},{"year":2020,"month":1,"date":2,"hours":0,"minutes":0},{"year":2020,"month":1,"date":2,"hours":0,"minutes":10},{"year":2020,"month":1,"date":2,"hours":0,"minutes":20}],"format":"%H:%M","labelExpr":"datum.label == '18:30' ? '\u20078:30' : datum.label","labelColor":"#0b7f0b","labelFontSize":11,"labelPadding":-6,"labelOverlap":false,"labelFlush":false,"tickColor":"#777777","tickSize":8,"domainColor":"#6a6a6a","domainWidth":1,"grid":false,"title":"Dimensione FW - Milano [Milano] (195.\u00a0\u00a0\u00a0\u00a0\u00a0\u00a0\u00a0\u00a0\u00a0\u00a0\u00a0\u00a0\u00a0\u00a0)","titleX":-23,"titleY":-63,"titleAlign":"left","titleAnchor":"start","titleBaseline":"alphabetic","titleFontSize":10.8,"titleFontWeight":"normal","titleColor":"#000000"}}}},
{"transform":[{"filter":"datum.k=='spk'"}],"mark":{"type":"rule","color":"#000000","strokeWidth":1},"encoding":{"x":{"field":"t","type":"temporal","scale":{"domain":[{"year":2020,"month":1,"date":1,"hours":18,"minutes":29,"seconds":9},{"year":2020,"month":1,"date":2,"hours":0,"minutes":27,"seconds":35}]}},"y2":{"field":"hi"}}}
]},
{"width":2509,"height":61,"data":{"name":"d"},"transform":[{"filter":"datum.p=='Milano_2'"}],"title":{"text":"Graph time = 6 h","anchor":"end","frame":"group","offset":-19.6,"baseline":"alphabetic","fontSize":10.8,"fontWeight":"normal","color":"#000000"},"encoding":{"y":{"field":"v","type":"quantitative","scale":{"domain":[0,59],"nice":false},"axis":{"values":[0,59],"labelFlush":true,"domain":false,"ticks":false,"grid":false,"labelPadding":2,"labelFontSize":11,"labelColor":"#000000","title":"ms","titleX":-2,"titleY":29.5,"titleAngle":-90,"titleAlign":"center","titleBaseline":"alphabetic","titleFontSize":11,"titleFontWeight":"normal","titleColor":"#000000"}}},"layer":[
{"transform":[{"filter":"datum.k=='thr'"}],"mark":{"type":"rule","strokeDash":[4,3],"color":"#b9b9b9","strokeWidth":1},"encoding":{}},
{"transform":[{"filter":"datum.k=='thr'"}],"mark":{"type":"text","align":"left","baseline":"top","dy":5,"color":"#b3b3b3","fontSize":11},"encoding":{"x":{"field":"t","type":"temporal","scale":{"domain":[{"year":2020,"month":1,"date":1,"hours":18,"minutes":29,"seconds":9},{"year":2020,"month":1,"date":2,"hours":0,"minutes":27,"seconds":35}]}},"text":{"field":"lab"}}},
{"transform":[{"filter":"datum.k=='loss'"}],"mark":{"type":"rule","color":"#ff0000","strokeWidth":1.2},"encoding":{"x":{"field":"t","type":"temporal","scale":{"domain":[{"year":2020,"month":1,"date":1,"hours":18,"minutes":29,"seconds":9},{"year":2020,"month":1,"date":2,"hours":0,"minutes":27,"seconds":35}]}},"y2":{"field":"hi"}}},
{"transform":[{"filter":"datum.k=='line'"}],"mark":{"type":"line","color":"#000000","strokeWidth":3,"clip":true},"encoding":{"x":{"field":"t","type":"temporal","scale":{"domain":[{"year":2020,"month":1,"date":1,"hours":18,"minutes":29,"seconds":9},{"year":2020,"month":1,"date":2,"hours":0,"minutes":27,"seconds":35}]},"axis":{"values":[{"year":2020,"month":1,"date":1,"hours":18,"minutes":30},{"year":2020,"month":1,"date":1,"hours":18,"minutes":40},{"year":2020,"month":1,"date":1,"hours":18,"minutes":50},{"year":2020,"month":1,"date":1,"hours":19,"minutes":0},{"year":2020,"month":1,"date":1,"hours":19,"minutes":10},{"year":2020,"month":1,"date":1,"hours":19,"minutes":20},{"year":2020,"month":1,"date":1,"hours":19,"minutes":30},{"year":2020,"month":1,"date":1,"hours":19,"minutes":40},{"year":2020,"month":1,"date":1,"hours":19,"minutes":50},{"year":2020,"month":1,"date":1,"hours":20,"minutes":0},{"year":2020,"month":1,"date":1,"hours":20,"minutes":10},{"year":2020,"month":1,"date":1,"hours":20,"minutes":20},{"year":2020,"month":1,"date":1,"hours":20,"minutes":30},{"year":2020,"month":1,"date":1,"hours":20,"minutes":40},{"year":2020,"month":1,"date":1,"hours":20,"minutes":50},{"year":2020,"month":1,"date":1,"hours":21,"minutes":0},{"year":2020,"month":1,"date":1,"hours":21,"minutes":10},{"year":2020,"month":1,"date":1,"hours":21,"minutes":20},{"year":2020,"month":1,"date":1,"hours":21,"minutes":30},{"year":2020,"month":1,"date":1,"hours":21,"minutes":40},{"year":2020,"month":1,"date":1,"hours":21,"minutes":50},{"year":2020,"month":1,"date":1,"hours":22,"minutes":0},{"year":2020,"month":1,"date":1,"hours":22,"minutes":10},{"year":2020,"month":1,"date":1,"hours":22,"minutes":20},{"year":2020,"month":1,"date":1,"hours":22,"minutes":30},{"year":2020,"month":1,"date":1,"hours":22,"minutes":40},{"year":2020,"month":1,"date":1,"hours":22,"minutes":50},{"year":2020,"month":1,"date":1,"hours":23,"minutes":0},{"year":2020,"month":1,"date":1,"hours":23,"minutes":10},{"year":2020,"month":1,"date":1,"hours":23,"minutes":20},{"year":2020,"month":1,"date":1,"hours":23,"minutes":30},{"year":2020,"month":1,"date":1,"hours":23,"minutes":40},{"year":2020,"month":1,"date":1,"hours":23,"minutes":50},{"year":2020,"month":1,"date":2,"hours":0,"minutes":0},{"year":2020,"month":1,"date":2,"hours":0,"minutes":10},{"year":2020,"month":1,"date":2,"hours":0,"minutes":20}],"format":"%H:%M","labelExpr":"datum.label == '18:30' ? '\u20078:30' : datum.label","labelColor":"#0b7f0b","labelFontSize":11,"labelPadding":-6,"labelOverlap":false,"labelFlush":false,"tickColor":"#777777","tickSize":8,"domainColor":"#6a6a6a","domainWidth":1,"grid":false,"title":"Dimensione FW - Milano [Milano_2] (195.\u00a0\u00a0\u00a0\u00a0\u00a0\u00a0\u00a0\u00a0\u00a0\u00a0\u00a0\u00a0\u00a0\u00a0\u00a0\u00a0\u00a0\u00a0)","titleX":-23,"titleY":-63,"titleAlign":"left","titleAnchor":"start","titleBaseline":"alphabetic","titleFontSize":10.8,"titleFontWeight":"normal","titleColor":"#000000"}}}},
{"transform":[{"filter":"datum.k=='spk'"}],"mark":{"type":"rule","color":"#000000","strokeWidth":1},"encoding":{"x":{"field":"t","type":"temporal","scale":{"domain":[{"year":2020,"month":1,"date":1,"hours":18,"minutes":29,"seconds":9},{"year":2020,"month":1,"date":2,"hours":0,"minutes":27,"seconds":35}]}},"y2":{"field":"hi"}}}
]},
{"width":2509,"height":61,"data":{"name":"d"},"transform":[{"filter":"datum.p=='Pescara'"}],"title":{"text":"Graph time = 6 h","anchor":"end","frame":"group","offset":-19.6,"baseline":"alphabetic","fontSize":10.8,"fontWeight":"normal","color":"#000000"},"encoding":{"y":{"field":"v","type":"quantitative","scale":{"domain":[0,29],"nice":false},"axis":{"values":[0,29],"labelFlush":true,"domain":false,"ticks":false,"grid":false,"labelPadding":2,"labelFontSize":11,"labelColor":"#000000","title":"ms","titleX":-2,"titleY":29.5,"titleAngle":-90,"titleAlign":"center","titleBaseline":"alphabetic","titleFontSize":11,"titleFontWeight":"normal","titleColor":"#000000"}}},"layer":[
{"transform":[{"filter":"datum.k=='thr'"}],"mark":{"type":"rule","strokeDash":[4,3],"color":"#b9b9b9","strokeWidth":1},"encoding":{}},
{"transform":[{"filter":"datum.k=='thr'"}],"mark":{"type":"text","align":"left","baseline":"top","dy":5,"color":"#b3b3b3","fontSize":11},"encoding":{"x":{"field":"t","type":"temporal","scale":{"domain":[{"year":2020,"month":1,"date":1,"hours":18,"minutes":29,"seconds":9},{"year":2020,"month":1,"date":2,"hours":0,"minutes":27,"seconds":35}]}},"text":{"field":"lab"}}},
{"transform":[{"filter":"datum.k=='loss'"}],"mark":{"type":"rule","color":"#ff0000","strokeWidth":1.2},"encoding":{"x":{"field":"t","type":"temporal","scale":{"domain":[{"year":2020,"month":1,"date":1,"hours":18,"minutes":29,"seconds":9},{"year":2020,"month":1,"date":2,"hours":0,"minutes":27,"seconds":35}]}},"y2":{"field":"hi"}}},
{"transform":[{"filter":"datum.k=='line'"}],"mark":{"type":"line","color":"#000000","strokeWidth":3,"clip":true},"encoding":{"x":{"field":"t","type":"temporal","scale":{"domain":[{"year":2020,"month":1,"date":1,"hours":18,"minutes":29,"seconds":9},{"year":2020,"month":1,"date":2,"hours":0,"minutes":27,"seconds":35}]},"axis":{"values":[{"year":2020,"month":1,"date":1,"hours":18,"minutes":30},{"year":2020,"month":1,"date":1,"hours":18,"minutes":40},{"year":2020,"month":1,"date":1,"hours":18,"minutes":50},{"year":2020,"month":1,"date":1,"hours":19,"minutes":0},{"year":2020,"month":1,"date":1,"hours":19,"minutes":10},{"year":2020,"month":1,"date":1,"hours":19,"minutes":20},{"year":2020,"month":1,"date":1,"hours":19,"minutes":30},{"year":2020,"month":1,"date":1,"hours":19,"minutes":40},{"year":2020,"month":1,"date":1,"hours":19,"minutes":50},{"year":2020,"month":1,"date":1,"hours":20,"minutes":0},{"year":2020,"month":1,"date":1,"hours":20,"minutes":10},{"year":2020,"month":1,"date":1,"hours":20,"minutes":20},{"year":2020,"month":1,"date":1,"hours":20,"minutes":30},{"year":2020,"month":1,"date":1,"hours":20,"minutes":40},{"year":2020,"month":1,"date":1,"hours":20,"minutes":50},{"year":2020,"month":1,"date":1,"hours":21,"minutes":0},{"year":2020,"month":1,"date":1,"hours":21,"minutes":10},{"year":2020,"month":1,"date":1,"hours":21,"minutes":20},{"year":2020,"month":1,"date":1,"hours":21,"minutes":30},{"year":2020,"month":1,"date":1,"hours":21,"minutes":40},{"year":2020,"month":1,"date":1,"hours":21,"minutes":50},{"year":2020,"month":1,"date":1,"hours":22,"minutes":0},{"year":2020,"month":1,"date":1,"hours":22,"minutes":10},{"year":2020,"month":1,"date":1,"hours":22,"minutes":20},{"year":2020,"month":1,"date":1,"hours":22,"minutes":30},{"year":2020,"month":1,"date":1,"hours":22,"minutes":40},{"year":2020,"month":1,"date":1,"hours":22,"minutes":50},{"year":2020,"month":1,"date":1,"hours":23,"minutes":0},{"year":2020,"month":1,"date":1,"hours":23,"minutes":10},{"year":2020,"month":1,"date":1,"hours":23,"minutes":20},{"year":2020,"month":1,"date":1,"hours":23,"minutes":30},{"year":2020,"month":1,"date":1,"hours":23,"minutes":40},{"year":2020,"month":1,"date":1,"hours":23,"minutes":50},{"year":2020,"month":1,"date":2,"hours":0,"minutes":0},{"year":2020,"month":1,"date":2,"hours":0,"minutes":10},{"year":2020,"month":1,"date":2,"hours":0,"minutes":20}],"format":"%H:%M","labelExpr":"datum.label == '18:30' ? '\u20078:30' : datum.label","labelColor":"#0b7f0b","labelFontSize":11,"labelPadding":-6,"labelOverlap":false,"labelFlush":false,"tickColor":"#777777","tickSize":8,"domainColor":"#6a6a6a","domainWidth":1,"grid":false,"title":"Dimensione FW - Milano [Pescara] (195.\u00a0\u00a0\u00a0\u00a0\u00a0\u00a0\u00a0\u00a0\u00a0\u00a0\u00a0\u00a0\u00a0\u00a0\u00a0\u00a0)","titleX":-23,"titleY":-63,"titleAlign":"left","titleAnchor":"start","titleBaseline":"alphabetic","titleFontSize":10.8,"titleFontWeight":"normal","titleColor":"#000000"}}}},
{"transform":[{"filter":"datum.k=='spk'"}],"mark":{"type":"rule","color":"#000000","strokeWidth":1},"encoding":{"x":{"field":"t","type":"temporal","scale":{"domain":[{"year":2020,"month":1,"date":1,"hours":18,"minutes":29,"seconds":9},{"year":2020,"month":1,"date":2,"hours":0,"minutes":27,"seconds":35}]}},"y2":{"field":"hi"}}}
]},
{"width":2509,"height":61,"data":{"name":"d"},"transform":[{"filter":"datum.p=='Torino'"}],"title":{"text":"Graph time = 6 h","anchor":"end","frame":"group","offset":-19.6,"baseline":"alphabetic","fontSize":10.8,"fontWeight":"normal","color":"#000000"},"encoding":{"y":{"field":"v","type":"quantitative","scale":{"domain":[0,22],"nice":false},"axis":{"values":[0,22],"labelFlush":true,"domain":false,"ticks":false,"grid":false,"labelPadding":2,"labelFontSize":11,"labelColor":"#000000","title":"ms","titleX":-2,"titleY":29.5,"titleAngle":-90,"titleAlign":"center","titleBaseline":"alphabetic","titleFontSize":11,"titleFontWeight":"normal","titleColor":"#000000"}}},"layer":[
{"transform":[{"filter":"datum.k=='thr'"}],"mark":{"type":"rule","strokeDash":[4,3],"color":"#b9b9b9","strokeWidth":1},"encoding":{}},
{"transform":[{"filter":"datum.k=='thr'"}],"mark":{"type":"text","align":"left","baseline":"top","dy":5,"color":"#b3b3b3","fontSize":11},"encoding":{"x":{"field":"t","type":"temporal","scale":{"domain":[{"year":2020,"month":1,"date":1,"hours":18,"minutes":29,"seconds":9},{"year":2020,"month":1,"date":2,"hours":0,"minutes":27,"seconds":35}]}},"text":{"field":"lab"}}},
{"transform":[{"filter":"datum.k=='loss'"}],"mark":{"type":"rule","color":"#ff0000","strokeWidth":1.2},"encoding":{"x":{"field":"t","type":"temporal","scale":{"domain":[{"year":2020,"month":1,"date":1,"hours":18,"minutes":29,"seconds":9},{"year":2020,"month":1,"date":2,"hours":0,"minutes":27,"seconds":35}]}},"y2":{"field":"hi"}}},
{"transform":[{"filter":"datum.k=='line'"}],"mark":{"type":"line","color":"#000000","strokeWidth":3,"clip":true},"encoding":{"x":{"field":"t","type":"temporal","scale":{"domain":[{"year":2020,"month":1,"date":1,"hours":18,"minutes":29,"seconds":9},{"year":2020,"month":1,"date":2,"hours":0,"minutes":27,"seconds":35}]},"axis":{"values":[{"year":2020,"month":1,"date":1,"hours":18,"minutes":30},{"year":2020,"month":1,"date":1,"hours":18,"minutes":40},{"year":2020,"month":1,"date":1,"hours":18,"minutes":50},{"year":2020,"month":1,"date":1,"hours":19,"minutes":0},{"year":2020,"month":1,"date":1,"hours":19,"minutes":10},{"year":2020,"month":1,"date":1,"hours":19,"minutes":20},{"year":2020,"month":1,"date":1,"hours":19,"minutes":30},{"year":2020,"month":1,"date":1,"hours":19,"minutes":40},{"year":2020,"month":1,"date":1,"hours":19,"minutes":50},{"year":2020,"month":1,"date":1,"hours":20,"minutes":0},{"year":2020,"month":1,"date":1,"hours":20,"minutes":10},{"year":2020,"month":1,"date":1,"hours":20,"minutes":20},{"year":2020,"month":1,"date":1,"hours":20,"minutes":30},{"year":2020,"month":1,"date":1,"hours":20,"minutes":40},{"year":2020,"month":1,"date":1,"hours":20,"minutes":50},{"year":2020,"month":1,"date":1,"hours":21,"minutes":0},{"year":2020,"month":1,"date":1,"hours":21,"minutes":10},{"year":2020,"month":1,"date":1,"hours":21,"minutes":20},{"year":2020,"month":1,"date":1,"hours":21,"minutes":30},{"year":2020,"month":1,"date":1,"hours":21,"minutes":40},{"year":2020,"month":1,"date":1,"hours":21,"minutes":50},{"year":2020,"month":1,"date":1,"hours":22,"minutes":0},{"year":2020,"month":1,"date":1,"hours":22,"minutes":10},{"year":2020,"month":1,"date":1,"hours":22,"minutes":20},{"year":2020,"month":1,"date":1,"hours":22,"minutes":30},{"year":2020,"month":1,"date":1,"hours":22,"minutes":40},{"year":2020,"month":1,"date":1,"hours":22,"minutes":50},{"year":2020,"month":1,"date":1,"hours":23,"minutes":0},{"year":2020,"month":1,"date":1,"hours":23,"minutes":10},{"year":2020,"month":1,"date":1,"hours":23,"minutes":20},{"year":2020,"month":1,"date":1,"hours":23,"minutes":30},{"year":2020,"month":1,"date":1,"hours":23,"minutes":40},{"year":2020,"month":1,"date":1,"hours":23,"minutes":50},{"year":2020,"month":1,"date":2,"hours":0,"minutes":0},{"year":2020,"month":1,"date":2,"hours":0,"minutes":10},{"year":2020,"month":1,"date":2,"hours":0,"minutes":20}],"format":"%H:%M","labelExpr":"datum.label == '18:30' ? '\u20078:30' : datum.label","labelColor":"#0b7f0b","labelFontSize":11,"labelPadding":-6,"labelOverlap":false,"labelFlush":false,"tickColor":"#777777","tickSize":8,"domainColor":"#6a6a6a","domainWidth":1,"grid":false,"title":"Dimensione FW - Milano [Torino] (195.\u00a0\u00a0\u00a0\u00a0\u00a0\u00a0\u00a0\u00a0\u00a0\u00a0\u00a0\u00a0\u00a0\u00a0\u00a0\u00a0\u00a0\u00a0)","titleX":-23,"titleY":-63,"titleAlign":"left","titleAnchor":"start","titleBaseline":"alphabetic","titleFontSize":10.8,"titleFontWeight":"normal","titleColor":"#000000"}}}},
{"transform":[{"filter":"datum.k=='spk'"}],"mark":{"type":"rule","color":"#000000","strokeWidth":1},"encoding":{"x":{"field":"t","type":"temporal","scale":{"domain":[{"year":2020,"month":1,"date":1,"hours":18,"minutes":29,"seconds":9},{"year":2020,"month":1,"date":2,"hours":0,"minutes":27,"seconds":35}]}},"y2":{"field":"hi"}}}
]},
{"width":2509,"height":61,"data":{"name":"d"},"transform":[{"filter":"datum.p=='Treviso'"}],"title":{"text":"Graph time = 6 h","anchor":"end","frame":"group","offset":-19.6,"baseline":"alphabetic","fontSize":10.8,"fontWeight":"normal","color":"#000000"},"encoding":{"y":{"field":"v","type":"quantitative","scale":{"domain":[0,22],"nice":false},"axis":{"values":[0,22],"labelFlush":true,"domain":false,"ticks":false,"grid":false,"labelPadding":2,"labelFontSize":11,"labelColor":"#000000","title":"ms","titleX":-2,"titleY":29.5,"titleAngle":-90,"titleAlign":"center","titleBaseline":"alphabetic","titleFontSize":11,"titleFontWeight":"normal","titleColor":"#000000"}}},"layer":[
{"transform":[{"filter":"datum.k=='thr'"}],"mark":{"type":"rule","strokeDash":[4,3],"color":"#b9b9b9","strokeWidth":1},"encoding":{}},
{"transform":[{"filter":"datum.k=='thr'"}],"mark":{"type":"text","align":"left","baseline":"top","dy":5,"color":"#b3b3b3","fontSize":11},"encoding":{"x":{"field":"t","type":"temporal","scale":{"domain":[{"year":2020,"month":1,"date":1,"hours":18,"minutes":29,"seconds":9},{"year":2020,"month":1,"date":2,"hours":0,"minutes":27,"seconds":35}]}},"text":{"field":"lab"}}},
{"transform":[{"filter":"datum.k=='loss'"}],"mark":{"type":"rule","color":"#ff0000","strokeWidth":1.2},"encoding":{"x":{"field":"t","type":"temporal","scale":{"domain":[{"year":2020,"month":1,"date":1,"hours":18,"minutes":29,"seconds":9},{"year":2020,"month":1,"date":2,"hours":0,"minutes":27,"seconds":35}]}},"y2":{"field":"hi"}}},
{"transform":[{"filter":"datum.k=='line'"}],"mark":{"type":"line","color":"#000000","strokeWidth":3,"clip":true},"encoding":{"x":{"field":"t","type":"temporal","scale":{"domain":[{"year":2020,"month":1,"date":1,"hours":18,"minutes":29,"seconds":9},{"year":2020,"month":1,"date":2,"hours":0,"minutes":27,"seconds":35}]},"axis":{"values":[{"year":2020,"month":1,"date":1,"hours":18,"minutes":30},{"year":2020,"month":1,"date":1,"hours":18,"minutes":40},{"year":2020,"month":1,"date":1,"hours":18,"minutes":50},{"year":2020,"month":1,"date":1,"hours":19,"minutes":0},{"year":2020,"month":1,"date":1,"hours":19,"minutes":10},{"year":2020,"month":1,"date":1,"hours":19,"minutes":20},{"year":2020,"month":1,"date":1,"hours":19,"minutes":30},{"year":2020,"month":1,"date":1,"hours":19,"minutes":40},{"year":2020,"month":1,"date":1,"hours":19,"minutes":50},{"year":2020,"month":1,"date":1,"hours":20,"minutes":0},{"year":2020,"month":1,"date":1,"hours":20,"minutes":10},{"year":2020,"month":1,"date":1,"hours":20,"minutes":20},{"year":2020,"month":1,"date":1,"hours":20,"minutes":30},{"year":2020,"month":1,"date":1,"hours":20,"minutes":40},{"year":2020,"month":1,"date":1,"hours":20,"minutes":50},{"year":2020,"month":1,"date":1,"hours":21,"minutes":0},{"year":2020,"month":1,"date":1,"hours":21,"minutes":10},{"year":2020,"month":1,"date":1,"hours":21,"minutes":20},{"year":2020,"month":1,"date":1,"hours":21,"minutes":30},{"year":2020,"month":1,"date":1,"hours":21,"minutes":40},{"year":2020,"month":1,"date":1,"hours":21,"minutes":50},{"year":2020,"month":1,"date":1,"hours":22,"minutes":0},{"year":2020,"month":1,"date":1,"hours":22,"minutes":10},{"year":2020,"month":1,"date":1,"hours":22,"minutes":20},{"year":2020,"month":1,"date":1,"hours":22,"minutes":30},{"year":2020,"month":1,"date":1,"hours":22,"minutes":40},{"year":2020,"month":1,"date":1,"hours":22,"minutes":50},{"year":2020,"month":1,"date":1,"hours":23,"minutes":0},{"year":2020,"month":1,"date":1,"hours":23,"minutes":10},{"year":2020,"month":1,"date":1,"hours":23,"minutes":20},{"year":2020,"month":1,"date":1,"hours":23,"minutes":30},{"year":2020,"month":1,"date":1,"hours":23,"minutes":40},{"year":2020,"month":1,"date":1,"hours":23,"minutes":50},{"year":2020,"month":1,"date":2,"hours":0,"minutes":0},{"year":2020,"month":1,"date":2,"hours":0,"minutes":10},{"year":2020,"month":1,"date":2,"hours":0,"minutes":20}],"format":"%H:%M","labelExpr":"datum.label == '18:30' ? '\u20078:30' : datum.label","labelColor":"#0b7f0b","labelFontSize":11,"labelPadding":-6,"labelOverlap":false,"labelFlush":false,"tickColor":"#777777","tickSize":8,"domainColor":"#6a6a6a","domainWidth":1,"grid":false,"title":"Dimensione FW - Milano [Treviso] (195.\u00a0\u00a0\u00a0\u00a0\u00a0\u00a0\u00a0\u00a0\u00a0\u00a0\u00a0\u00a0\u00a0\u00a0\u00a0\u00a0\u00a0\u00a0\u00a0)","titleX":-23,"titleY":-63,"titleAlign":"left","titleAnchor":"start","titleBaseline":"alphabetic","titleFontSize":10.8,"titleFontWeight":"normal","titleColor":"#000000"}}}},
{"transform":[{"filter":"datum.k=='spk'"}],"mark":{"type":"rule","color":"#000000","strokeWidth":1},"encoding":{"x":{"field":"t","type":"temporal","scale":{"domain":[{"year":2020,"month":1,"date":1,"hours":18,"minutes":29,"seconds":9},{"year":2020,"month":1,"date":2,"hours":0,"minutes":27,"seconds":35}]}},"y2":{"field":"hi"}}}
]},
{"width":2509,"height":61,"data":{"name":"d"},"transform":[{"filter":"datum.p=='Treviso_Morris'"}],"title":{"text":"Graph time = 6 h","anchor":"end","frame":"group","offset":-19.6,"baseline":"alphabetic","fontSize":10.8,"fontWeight":"normal","color":"#000000"},"encoding":{"y":{"field":"v","type":"quantitative","scale":{"domain":[0,26],"nice":false},"axis":{"values":[0,26],"labelFlush":true,"domain":false,"ticks":false,"grid":false,"labelPadding":2,"labelFontSize":11,"labelColor":"#000000","title":"ms","titleX":-2,"titleY":29.5,"titleAngle":-90,"titleAlign":"center","titleBaseline":"alphabetic","titleFontSize":11,"titleFontWeight":"normal","titleColor":"#000000"}}},"layer":[
{"transform":[{"filter":"datum.k=='thr'"}],"mark":{"type":"rule","strokeDash":[4,3],"color":"#b9b9b9","strokeWidth":1},"encoding":{}},
{"transform":[{"filter":"datum.k=='thr'"}],"mark":{"type":"text","align":"left","baseline":"top","dy":5,"color":"#b3b3b3","fontSize":11},"encoding":{"x":{"field":"t","type":"temporal","scale":{"domain":[{"year":2020,"month":1,"date":1,"hours":18,"minutes":29,"seconds":9},{"year":2020,"month":1,"date":2,"hours":0,"minutes":27,"seconds":35}]}},"text":{"field":"lab"}}},
{"transform":[{"filter":"datum.k=='loss'"}],"mark":{"type":"rule","color":"#ff0000","strokeWidth":1.2},"encoding":{"x":{"field":"t","type":"temporal","scale":{"domain":[{"year":2020,"month":1,"date":1,"hours":18,"minutes":29,"seconds":9},{"year":2020,"month":1,"date":2,"hours":0,"minutes":27,"seconds":35}]}},"y2":{"field":"hi"}}},
{"transform":[{"filter":"datum.k=='line'"}],"mark":{"type":"line","color":"#000000","strokeWidth":3,"clip":true},"encoding":{"x":{"field":"t","type":"temporal","scale":{"domain":[{"year":2020,"month":1,"date":1,"hours":18,"minutes":29,"seconds":9},{"year":2020,"month":1,"date":2,"hours":0,"minutes":27,"seconds":35}]},"axis":{"values":[{"year":2020,"month":1,"date":1,"hours":18,"minutes":30},{"year":2020,"month":1,"date":1,"hours":18,"minutes":40},{"year":2020,"month":1,"date":1,"hours":18,"minutes":50},{"year":2020,"month":1,"date":1,"hours":19,"minutes":0},{"year":2020,"month":1,"date":1,"hours":19,"minutes":10},{"year":2020,"month":1,"date":1,"hours":19,"minutes":20},{"year":2020,"month":1,"date":1,"hours":19,"minutes":30},{"year":2020,"month":1,"date":1,"hours":19,"minutes":40},{"year":2020,"month":1,"date":1,"hours":19,"minutes":50},{"year":2020,"month":1,"date":1,"hours":20,"minutes":0},{"year":2020,"month":1,"date":1,"hours":20,"minutes":10},{"year":2020,"month":1,"date":1,"hours":20,"minutes":20},{"year":2020,"month":1,"date":1,"hours":20,"minutes":30},{"year":2020,"month":1,"date":1,"hours":20,"minutes":40},{"year":2020,"month":1,"date":1,"hours":20,"minutes":50},{"year":2020,"month":1,"date":1,"hours":21,"minutes":0},{"year":2020,"month":1,"date":1,"hours":21,"minutes":10},{"year":2020,"month":1,"date":1,"hours":21,"minutes":20},{"year":2020,"month":1,"date":1,"hours":21,"minutes":30},{"year":2020,"month":1,"date":1,"hours":21,"minutes":40},{"year":2020,"month":1,"date":1,"hours":21,"minutes":50},{"year":2020,"month":1,"date":1,"hours":22,"minutes":0},{"year":2020,"month":1,"date":1,"hours":22,"minutes":10},{"year":2020,"month":1,"date":1,"hours":22,"minutes":20},{"year":2020,"month":1,"date":1,"hours":22,"minutes":30},{"year":2020,"month":1,"date":1,"hours":22,"minutes":40},{"year":2020,"month":1,"date":1,"hours":22,"minutes":50},{"year":2020,"month":1,"date":1,"hours":23,"minutes":0},{"year":2020,"month":1,"date":1,"hours":23,"minutes":10},{"year":2020,"month":1,"date":1,"hours":23,"minutes":20},{"year":2020,"month":1,"date":1,"hours":23,"minutes":30},{"year":2020,"month":1,"date":1,"hours":23,"minutes":40},{"year":2020,"month":1,"date":1,"hours":23,"minutes":50},{"year":2020,"month":1,"date":2,"hours":0,"minutes":0},{"year":2020,"month":1,"date":2,"hours":0,"minutes":10},{"year":2020,"month":1,"date":2,"hours":0,"minutes":20}],"format":"%H:%M","labelExpr":"datum.label == '18:30' ? '\u20078:30' : datum.label","labelColor":"#0b7f0b","labelFontSize":11,"labelPadding":-6,"labelOverlap":false,"labelFlush":false,"tickColor":"#777777","tickSize":8,"domainColor":"#6a6a6a","domainWidth":1,"grid":false,"title":"Dimensione FW - Milano [Treviso_Morris] (5.\u00a0\u00a0\u00a0\u00a0\u00a0\u00a0\u00a0\u00a0\u00a0\u00a0\u00a0\u00a0\u00a0\u00a0\u00a0\u00a0\u00a0\u00a0\u00a0\u00a0\u00a0)","titleX":-23,"titleY":-63,"titleAlign":"left","titleAnchor":"start","titleBaseline":"alphabetic","titleFontSize":10.8,"titleFontWeight":"normal","titleColor":"#000000"}}}},
{"transform":[{"filter":"datum.k=='spk'"}],"mark":{"type":"rule","color":"#000000","strokeWidth":1},"encoding":{"x":{"field":"t","type":"temporal","scale":{"domain":[{"year":2020,"month":1,"date":1,"hours":18,"minutes":29,"seconds":9},{"year":2020,"month":1,"date":2,"hours":0,"minutes":27,"seconds":35}]}},"y2":{"field":"hi"}}}
]},
{"width":2509,"height":61,"data":{"name":"d"},"transform":[{"filter":"datum.p=='Vicenza'"}],"title":{"text":"Graph time = 6 h","anchor":"end","frame":"group","offset":-19.6,"baseline":"alphabetic","fontSize":10.8,"fontWeight":"normal","color":"#000000"},"encoding":{"y":{"field":"v","type":"quantitative","scale":{"domain":[0,59],"nice":false},"axis":{"values":[0,59],"labelFlush":true,"domain":false,"ticks":false,"grid":false,"labelPadding":2,"labelFontSize":11,"labelColor":"#000000","title":"ms","titleX":-2,"titleY":29.5,"titleAngle":-90,"titleAlign":"center","titleBaseline":"alphabetic","titleFontSize":11,"titleFontWeight":"normal","titleColor":"#000000"}}},"layer":[
{"transform":[{"filter":"datum.k=='thr'"}],"mark":{"type":"rule","strokeDash":[4,3],"color":"#b9b9b9","strokeWidth":1},"encoding":{}},
{"transform":[{"filter":"datum.k=='thr'"}],"mark":{"type":"text","align":"left","baseline":"top","dy":5,"color":"#b3b3b3","fontSize":11},"encoding":{"x":{"field":"t","type":"temporal","scale":{"domain":[{"year":2020,"month":1,"date":1,"hours":18,"minutes":29,"seconds":9},{"year":2020,"month":1,"date":2,"hours":0,"minutes":27,"seconds":35}]}},"text":{"field":"lab"}}},
{"transform":[{"filter":"datum.k=='loss'"}],"mark":{"type":"rule","color":"#ff0000","strokeWidth":1.2},"encoding":{"x":{"field":"t","type":"temporal","scale":{"domain":[{"year":2020,"month":1,"date":1,"hours":18,"minutes":29,"seconds":9},{"year":2020,"month":1,"date":2,"hours":0,"minutes":27,"seconds":35}]}},"y2":{"field":"hi"}}},
{"transform":[{"filter":"datum.k=='line'"}],"mark":{"type":"line","color":"#000000","strokeWidth":3,"clip":true},"encoding":{"x":{"field":"t","type":"temporal","scale":{"domain":[{"year":2020,"month":1,"date":1,"hours":18,"minutes":29,"seconds":9},{"year":2020,"month":1,"date":2,"hours":0,"minutes":27,"seconds":35}]},"axis":{"values":[{"year":2020,"month":1,"date":1,"hours":18,"minutes":30},{"year":2020,"month":1,"date":1,"hours":18,"minutes":40},{"year":2020,"month":1,"date":1,"hours":18,"minutes":50},{"year":2020,"month":1,"date":1,"hours":19,"minutes":0},{"year":2020,"month":1,"date":1,"hours":19,"minutes":10},{"year":2020,"month":1,"date":1,"hours":19,"minutes":20},{"year":2020,"month":1,"date":1,"hours":19,"minutes":30},{"year":2020,"month":1,"date":1,"hours":19,"minutes":40},{"year":2020,"month":1,"date":1,"hours":19,"minutes":50},{"year":2020,"month":1,"date":1,"hours":20,"minutes":0},{"year":2020,"month":1,"date":1,"hours":20,"minutes":10},{"year":2020,"month":1,"date":1,"hours":20,"minutes":20},{"year":2020,"month":1,"date":1,"hours":20,"minutes":30},{"year":2020,"month":1,"date":1,"hours":20,"minutes":40},{"year":2020,"month":1,"date":1,"hours":20,"minutes":50},{"year":2020,"month":1,"date":1,"hours":21,"minutes":0},{"year":2020,"month":1,"date":1,"hours":21,"minutes":10},{"year":2020,"month":1,"date":1,"hours":21,"minutes":20},{"year":2020,"month":1,"date":1,"hours":21,"minutes":30},{"year":2020,"month":1,"date":1,"hours":21,"minutes":40},{"year":2020,"month":1,"date":1,"hours":21,"minutes":50},{"year":2020,"month":1,"date":1,"hours":22,"minutes":0},{"year":2020,"month":1,"date":1,"hours":22,"minutes":10},{"year":2020,"month":1,"date":1,"hours":22,"minutes":20},{"year":2020,"month":1,"date":1,"hours":22,"minutes":30},{"year":2020,"month":1,"date":1,"hours":22,"minutes":40},{"year":2020,"month":1,"date":1,"hours":22,"minutes":50},{"year":2020,"month":1,"date":1,"hours":23,"minutes":0},{"year":2020,"month":1,"date":1,"hours":23,"minutes":10},{"year":2020,"month":1,"date":1,"hours":23,"minutes":20},{"year":2020,"month":1,"date":1,"hours":23,"minutes":30},{"year":2020,"month":1,"date":1,"hours":23,"minutes":40},{"year":2020,"month":1,"date":1,"hours":23,"minutes":50},{"year":2020,"month":1,"date":2,"hours":0,"minutes":0},{"year":2020,"month":1,"date":2,"hours":0,"minutes":10},{"year":2020,"month":1,"date":2,"hours":0,"minutes":20}],"format":"%H:%M","labelExpr":"datum.label == '18:30' ? '\u20078:30' : datum.label","labelColor":"#0b7f0b","labelFontSize":11,"labelPadding":-6,"labelOverlap":false,"labelFlush":false,"tickColor":"#777777","tickSize":8,"domainColor":"#6a6a6a","domainWidth":1,"grid":false,"title":"Dimensione FW - Milano [Vicenza_SilkierLyric146] (195.\u00a0\u00a0\u00a0\u00a0\u00a0\u00a0\u00a0\u00a0\u00a0\u00a0\u00a0\u00a0\u00a0\u00a0\u00a0\u00a0)","titleX":-23,"titleY":-63,"titleAlign":"left","titleAnchor":"start","titleBaseline":"alphabetic","titleFontSize":10.8,"titleFontWeight":"normal","titleColor":"#000000"}}}},
{"transform":[{"filter":"datum.k=='spk'"}],"mark":{"type":"rule","color":"#000000","strokeWidth":1},"encoding":{"x":{"field":"t","type":"temporal","scale":{"domain":[{"year":2020,"month":1,"date":1,"hours":18,"minutes":29,"seconds":9},{"year":2020,"month":1,"date":2,"hours":0,"minutes":27,"seconds":35}]}},"y2":{"field":"hi"}}}
]}
],
"spacing":27,
"bounds":"flush"
}
